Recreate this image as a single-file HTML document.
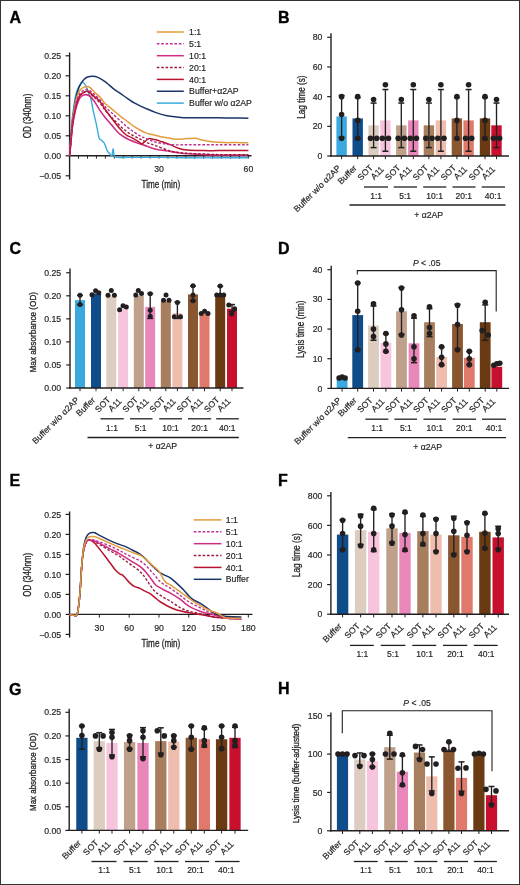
<!DOCTYPE html>
<html><head><meta charset="utf-8"><style>
html,body{margin:0;padding:0;background:#fff;}
body{width:520px;height:885px;overflow:hidden;}
svg{display:block;will-change:transform;}
text{font-family:"Liberation Sans", sans-serif;}
</style></head><body>
<svg width="520" height="885" viewBox="0 0 520 885" font-family='"Liberation Sans", sans-serif' fill="#231f20">
<rect x="0" y="0" width="520" height="885" fill="#fff"/>
<text x="9.6" y="23" font-size="16" font-weight="bold" fill="#000" stroke="#000" stroke-width="0.35">A</text>
<line x1="69.6" y1="52.5" x2="69.6" y2="179.5" stroke="#231f20" stroke-width="1.4"/>
<line x1="68.9" y1="155.8" x2="251.5" y2="155.8" stroke="#231f20" stroke-width="1.4"/>
<line x1="65.6" y1="55.8" x2="69.6" y2="55.8" stroke="#231f20" stroke-width="1.2"/>
<text x="61.2" y="58.9" font-size="8.7" text-anchor="end" stroke="#231f20" stroke-width="0.18">0.25</text>
<line x1="65.6" y1="75.8" x2="69.6" y2="75.8" stroke="#231f20" stroke-width="1.2"/>
<text x="61.2" y="78.9" font-size="8.7" text-anchor="end" stroke="#231f20" stroke-width="0.18">0.20</text>
<line x1="65.6" y1="95.8" x2="69.6" y2="95.8" stroke="#231f20" stroke-width="1.2"/>
<text x="61.2" y="98.9" font-size="8.7" text-anchor="end" stroke="#231f20" stroke-width="0.18">0.15</text>
<line x1="65.6" y1="115.8" x2="69.6" y2="115.8" stroke="#231f20" stroke-width="1.2"/>
<text x="61.2" y="118.9" font-size="8.7" text-anchor="end" stroke="#231f20" stroke-width="0.18">0.10</text>
<line x1="65.6" y1="135.8" x2="69.6" y2="135.8" stroke="#231f20" stroke-width="1.2"/>
<text x="61.2" y="138.9" font-size="8.7" text-anchor="end" stroke="#231f20" stroke-width="0.18">0.05</text>
<line x1="65.6" y1="155.8" x2="69.6" y2="155.8" stroke="#231f20" stroke-width="1.2"/>
<text x="61.2" y="158.9" font-size="8.7" text-anchor="end" stroke="#231f20" stroke-width="0.18">0.00</text>
<line x1="65.6" y1="175.8" x2="69.6" y2="175.8" stroke="#231f20" stroke-width="1.2"/>
<text x="61.2" y="178.9" font-size="8.7" text-anchor="end" stroke="#231f20" stroke-width="0.18">−0.05</text>
<line x1="78.54" y1="155.8" x2="78.54" y2="158.6" stroke="#231f20" stroke-width="1"/>
<line x1="87.48" y1="155.8" x2="87.48" y2="158.6" stroke="#231f20" stroke-width="1"/>
<line x1="96.42" y1="155.8" x2="96.42" y2="158.6" stroke="#231f20" stroke-width="1"/>
<line x1="105.36" y1="155.8" x2="105.36" y2="158.6" stroke="#231f20" stroke-width="1"/>
<line x1="114.3" y1="155.8" x2="114.3" y2="158.6" stroke="#231f20" stroke-width="1"/>
<line x1="123.24" y1="155.8" x2="123.24" y2="158.6" stroke="#231f20" stroke-width="1"/>
<line x1="132.18" y1="155.8" x2="132.18" y2="158.6" stroke="#231f20" stroke-width="1"/>
<line x1="141.12" y1="155.8" x2="141.12" y2="158.6" stroke="#231f20" stroke-width="1"/>
<line x1="150.06" y1="155.8" x2="150.06" y2="158.6" stroke="#231f20" stroke-width="1"/>
<line x1="159" y1="155.8" x2="159" y2="158.6" stroke="#231f20" stroke-width="1"/>
<line x1="167.94" y1="155.8" x2="167.94" y2="158.6" stroke="#231f20" stroke-width="1"/>
<line x1="176.88" y1="155.8" x2="176.88" y2="158.6" stroke="#231f20" stroke-width="1"/>
<line x1="185.82" y1="155.8" x2="185.82" y2="158.6" stroke="#231f20" stroke-width="1"/>
<line x1="194.76" y1="155.8" x2="194.76" y2="158.6" stroke="#231f20" stroke-width="1"/>
<line x1="203.7" y1="155.8" x2="203.7" y2="158.6" stroke="#231f20" stroke-width="1"/>
<line x1="212.64" y1="155.8" x2="212.64" y2="158.6" stroke="#231f20" stroke-width="1"/>
<line x1="221.58" y1="155.8" x2="221.58" y2="158.6" stroke="#231f20" stroke-width="1"/>
<line x1="230.52" y1="155.8" x2="230.52" y2="158.6" stroke="#231f20" stroke-width="1"/>
<line x1="239.46" y1="155.8" x2="239.46" y2="158.6" stroke="#231f20" stroke-width="1"/>
<line x1="248.4" y1="155.8" x2="248.4" y2="158.6" stroke="#231f20" stroke-width="1"/>
<text x="159" y="172" font-size="8.7" text-anchor="middle" stroke="#231f20" stroke-width="0.18">30</text>
<text x="248.4" y="172" font-size="8.7" text-anchor="middle" stroke="#231f20" stroke-width="0.18">60</text>
<text x="141.5" y="188" font-size="10.7" textLength="38.7" lengthAdjust="spacingAndGlyphs" stroke="#231f20" stroke-width="0.3">Time (min)</text>
<text x="31" y="116" font-size="10.2" text-anchor="middle" textLength="44.7" lengthAdjust="spacingAndGlyphs" transform="rotate(-90 31 116)" stroke="#231f20" stroke-width="0.3">OD (340nm)</text>
<path d="M69.6,155.8 C69.85,151.8 70.59,138.47 71.09,131.8 C71.59,125.13 71.83,121.8 72.58,115.8 C73.33,109.8 74.57,100.6 75.56,95.8 C76.55,91 77.4,89.27 78.54,87 C79.68,84.73 81.32,82.6 82.41,82.2 C83.51,81.8 84.25,83.33 85.1,84.6 C85.94,85.87 86.49,87.27 87.48,89.8 C88.47,92.33 90.06,96.13 91.06,99.8 C92.05,103.47 92.65,108.13 93.44,111.8 C94.23,115.47 94.88,117.47 95.82,121.8 C96.77,126.13 98.26,134.8 99.1,137.8 C99.95,140.8 100.1,139 100.89,139.8 C101.68,140.6 103.12,141.6 103.87,142.6 C104.62,143.6 104.81,144.47 105.36,145.8 C105.91,147.13 106.4,149.27 107.15,150.6 C107.89,151.93 109.04,152.93 109.83,153.8 C110.62,154.67 111.37,156.67 111.92,155.8 C112.46,154.93 112.71,148.6 113.11,148.6 C113.51,148.6 113.6,154.33 114.3,155.8 C115,157.27 114.8,157.13 117.28,157.4 C119.76,157.67 122.25,157.4 129.2,157.4 C136.15,157.4 149.07,157.33 159,157.4 C168.93,157.47 178.87,157.73 188.8,157.8 C198.73,157.87 208.67,157.8 218.6,157.8 C228.53,157.8 243.43,157.8 248.4,157.8" fill="none" stroke="#3aaade" stroke-width="1.4" stroke-linejoin="round"/>
<path d="M69.6,155.8 C69.85,152.47 70.59,141.8 71.09,135.8 C71.59,129.8 71.83,125.8 72.58,119.8 C73.33,113.8 74.57,105 75.56,99.8 C76.55,94.6 77.55,91.47 78.54,88.6 C79.53,85.73 80.53,84.2 81.52,82.6 C82.51,81 83.51,79.93 84.5,79 C85.49,78.07 86.09,77.47 87.48,77 C88.87,76.53 91.11,76.13 92.84,76.2 C94.58,76.27 95.82,76.47 97.91,77.4 C100,78.33 102.63,79.8 105.36,81.8 C108.09,83.8 111.82,87.47 114.3,89.4 C116.78,91.33 117.98,91.83 120.26,93.4 C122.54,94.97 125.52,97.13 128.01,98.8 C130.49,100.47 131.98,101.7 135.16,103.4 C138.34,105.1 143.6,107.47 147.08,109 C150.56,110.53 152.69,111.47 156.02,112.6 C159.35,113.73 163.57,115.07 167.05,115.8 C170.52,116.53 173.5,116.67 176.88,117 C180.26,117.33 182.84,117.67 187.31,117.8 C191.78,117.93 198.48,117.8 203.7,117.8 C208.91,117.8 213.63,117.77 218.6,117.8 C223.57,117.83 228.53,117.93 233.5,118 C238.47,118.07 245.92,118.17 248.4,118.2" fill="none" stroke="#1a3668" stroke-width="1.5" stroke-linejoin="round"/>
<path d="M69.6,155.8 C69.85,152.47 70.59,141.8 71.09,135.8 C71.59,129.8 71.83,125.47 72.58,119.8 C73.33,114.13 74.57,106.33 75.56,101.8 C76.55,97.27 77.55,94.8 78.54,92.6 C79.53,90.4 80.18,89.6 81.52,88.6 C82.86,87.6 85.1,86.73 86.59,86.6 C88.08,86.47 89.07,86.8 90.46,87.8 C91.85,88.8 93.34,91.07 94.93,92.6 C96.52,94.13 98.26,95.13 100,97 C101.73,98.87 103.47,101.87 105.36,103.8 C107.25,105.73 108.89,106.6 111.32,108.6 C113.75,110.6 117.18,113.6 119.96,115.8 C122.74,118 125.72,120.07 128.01,121.8 C130.29,123.53 131.68,124.83 133.67,126.2 C135.66,127.57 137.69,128.8 139.93,130 C142.16,131.2 144.4,132.5 147.08,133.4 C149.76,134.3 153.54,134.8 156.02,135.4 C158.5,136 159.65,136.53 161.98,137 C164.31,137.47 167.54,137.82 170.03,138.2 C172.51,138.58 174.05,139.21 176.88,139.28 C179.71,139.35 183.88,138.78 187.01,138.6 C190.14,138.42 193.37,138 195.65,138.2 C197.94,138.4 197.99,139.2 200.72,139.8 C203.45,140.4 208.07,141.33 212.04,141.8 C216.02,142.27 220.49,142.47 224.56,142.6 C228.63,142.73 232.51,142.57 236.48,142.6 C240.45,142.63 246.41,142.77 248.4,142.8" fill="none" stroke="#e29c3c" stroke-width="1.5" stroke-linejoin="round"/>
<path d="M69.6,155.8 C69.85,153.27 70.59,145.6 71.09,140.6 C71.59,135.6 71.83,130.93 72.58,125.8 C73.33,120.67 74.57,114 75.56,109.8 C76.55,105.6 77.55,102.87 78.54,100.6 C79.53,98.33 80.28,97.2 81.52,96.2 C82.76,95.2 84.5,94.53 85.99,94.6 C87.48,94.67 88.97,95.33 90.46,96.6 C91.95,97.87 93.34,99.9 94.93,102.2 C96.52,104.5 98.26,107.8 100,110.4 C101.73,113 103.47,115.43 105.36,117.8 C107.25,120.17 108.89,121.87 111.32,124.6 C113.75,127.33 116.98,131.67 119.96,134.2 C122.94,136.73 125.87,138.2 129.2,139.8 C132.53,141.4 136.95,142.73 139.93,143.8 C142.91,144.87 144.4,145.3 147.08,146.2 C149.76,147.1 152.2,148.33 156.02,149.2 C159.84,150.07 166.05,150.77 170.03,151.4 C174,152.03 176.73,152.6 179.86,153 C182.99,153.4 184.83,153.53 188.8,153.8 C192.77,154.07 198.73,154.4 203.7,154.6 C208.67,154.8 211.15,154.93 218.6,155 C226.05,155.07 243.43,155 248.4,155" fill="none" stroke="#cf2d82" stroke-width="1.6" stroke-linejoin="round"/>
<path d="M69.6,155.8 C69.85,153 70.59,144.33 71.09,139 C71.59,133.67 71.83,129 72.58,123.8 C73.33,118.6 74.57,112.13 75.56,107.8 C76.55,103.47 77.55,100.13 78.54,97.8 C79.53,95.47 80.03,94.8 81.52,93.8 C83.01,92.8 85.49,91.33 87.48,91.8 C89.47,92.27 91.35,94.73 93.44,96.6 C95.53,98.47 98.01,100.67 100,103 C101.98,105.33 103.47,108.27 105.36,110.6 C107.25,112.93 108.89,114.47 111.32,117 C113.75,119.53 116.98,123.07 119.96,125.8 C122.94,128.53 125.87,131.23 129.2,133.4 C132.53,135.57 136.95,137.27 139.93,138.8 C142.91,140.33 144.4,141.43 147.08,142.6 C149.76,143.77 152.2,144.4 156.02,145.8 C159.84,147.2 166.05,149.87 170.03,151 C174,152.13 176.73,152.2 179.86,152.6 C182.99,153 182.34,153.07 188.8,153.4 C195.26,153.73 208.67,154.4 218.6,154.6 C228.53,154.8 243.43,154.6 248.4,154.6" fill="none" stroke="#9c1a3a" stroke-width="1.4" stroke-linejoin="round" stroke-dasharray="2.6,1.8"/>
<path d="M69.6,155.8 C69.85,153.13 70.59,145.13 71.09,139.8 C71.59,134.47 71.83,129.13 72.58,123.8 C73.33,118.47 74.57,112.13 75.56,107.8 C76.55,103.47 77.55,100.13 78.54,97.8 C79.53,95.47 80.03,94.93 81.52,93.8 C83.01,92.67 85.49,90.67 87.48,91 C89.47,91.33 91.35,94.07 93.44,95.8 C95.53,97.53 98.01,99.07 100,101.4 C101.98,103.73 103.47,107.07 105.36,109.8 C107.25,112.53 108.89,114.63 111.32,117.8 C113.75,120.97 117.48,125.93 119.96,128.8 C122.45,131.67 124.18,133.5 126.22,135 C128.26,136.5 129.9,136.53 132.18,137.8 C134.46,139.07 138.29,141.6 139.93,142.6 C141.57,143.6 140.52,144.47 142.01,143.8 C143.5,143.13 147.03,139.33 148.87,138.6 C150.71,137.87 151.85,139.2 153.04,139.4 C154.23,139.6 154.53,139.4 156.02,139.8 C157.51,140.2 159.65,141 161.98,141.8 C164.31,142.6 167.29,143.53 170.03,144.6 C172.76,145.67 175.54,147.3 178.37,148.2 C181.2,149.1 182.79,149.6 187.01,150 C191.23,150.4 198.44,150.5 203.7,150.6 C208.96,150.7 211.15,150.6 218.6,150.6 C226.05,150.6 243.43,150.6 248.4,150.6" fill="none" stroke="#b8132f" stroke-width="1.5" stroke-linejoin="round"/>
<path d="M69.6,155.8 C69.85,152.8 70.59,143.47 71.09,137.8 C71.59,132.13 71.83,127.33 72.58,121.8 C73.33,116.27 74.57,108.93 75.56,104.6 C76.55,100.27 77.55,97.93 78.54,95.8 C79.53,93.67 80.03,92.87 81.52,91.8 C83.01,90.73 85.49,89.07 87.48,89.4 C89.47,89.73 91.35,92.07 93.44,93.8 C95.53,95.53 98.01,97.6 100,99.8 C101.98,102 103.47,104.87 105.36,107 C107.25,109.13 108.89,110.37 111.32,112.6 C113.75,114.83 116.98,117.73 119.96,120.4 C122.94,123.07 125.87,126.03 129.2,128.6 C132.53,131.17 136.95,134.07 139.93,135.8 C142.91,137.53 144.4,137.93 147.08,139 C149.76,140.07 152.2,141.27 156.02,142.2 C159.84,143.13 164.56,144.17 170.03,144.6 C175.49,145.03 180.7,144.77 188.8,144.8 C196.9,144.83 208.67,144.8 218.6,144.8 C228.53,144.8 243.43,144.8 248.4,144.8" fill="none" stroke="#bb2f8f" stroke-width="1.4" stroke-linejoin="round" stroke-dasharray="2.6,1.8"/>
<line x1="156.8" y1="32" x2="183.8" y2="32" stroke="#e29c3c" stroke-width="1.5"/>
<text x="189.1" y="35.1" font-size="8.7" stroke="#231f20" stroke-width="0.18">1:1</text>
<line x1="156.8" y1="43.85" x2="183.8" y2="43.85" stroke="#bb2f8f" stroke-width="1.5" stroke-dasharray="2.6,1.8"/>
<text x="189.1" y="46.95" font-size="8.7" stroke="#231f20" stroke-width="0.18">5:1</text>
<line x1="156.8" y1="55.7" x2="183.8" y2="55.7" stroke="#cf2d82" stroke-width="1.5"/>
<text x="189.1" y="58.8" font-size="8.7" stroke="#231f20" stroke-width="0.18">10:1</text>
<line x1="156.8" y1="67.55" x2="183.8" y2="67.55" stroke="#9c1a3a" stroke-width="1.5" stroke-dasharray="2.6,1.8"/>
<text x="189.1" y="70.65" font-size="8.7" stroke="#231f20" stroke-width="0.18">20:1</text>
<line x1="156.8" y1="79.4" x2="183.8" y2="79.4" stroke="#b8132f" stroke-width="1.5"/>
<text x="189.1" y="82.5" font-size="8.7" stroke="#231f20" stroke-width="0.18">40:1</text>
<line x1="156.8" y1="91.25" x2="183.8" y2="91.25" stroke="#1a3668" stroke-width="1.5"/>
<text x="189.1" y="94.35" font-size="8.7" stroke="#231f20" stroke-width="0.18">Buffer+α2AP</text>
<line x1="156.8" y1="103.1" x2="183.8" y2="103.1" stroke="#3aaade" stroke-width="1.5"/>
<text x="189.1" y="106.2" font-size="8.7" stroke="#231f20" stroke-width="0.18">Buffer w/o α2AP</text>
<text x="278" y="22.6" font-size="16" font-weight="bold" fill="#000" stroke="#000" stroke-width="0.35">B</text>
<rect x="336.4" y="116.43" width="10.4" height="39.57" fill="#39a9e0"/>
<rect x="352.5" y="118.41" width="10.4" height="37.59" fill="#0f4c8a"/>
<rect x="368.4" y="125.33" width="10.4" height="30.67" fill="#dccdc0"/>
<rect x="380.2" y="120.38" width="10.4" height="35.62" fill="#f7c4dd"/>
<rect x="396.1" y="125.33" width="10.4" height="30.67" fill="#bfa08a"/>
<rect x="408.1" y="120.38" width="10.4" height="35.62" fill="#e987ba"/>
<rect x="423.7" y="125.33" width="10.4" height="30.67" fill="#a87f5e"/>
<rect x="435.7" y="120.38" width="10.4" height="35.62" fill="#efbdad"/>
<rect x="451.7" y="118.41" width="10.4" height="37.59" fill="#8a5630"/>
<rect x="463.4" y="120.38" width="10.4" height="35.62" fill="#e0786b"/>
<rect x="479.8" y="118.41" width="10.4" height="37.59" fill="#6a3a12"/>
<rect x="491.3" y="125.33" width="10.4" height="30.67" fill="#c8102e"/>
<line x1="341.6" y1="95.58" x2="341.6" y2="137.27" stroke="#231f20" stroke-width="1.35"/>
<line x1="338.6" y1="95.58" x2="344.6" y2="95.58" stroke="#231f20" stroke-width="1.5"/>
<line x1="338.6" y1="137.27" x2="344.6" y2="137.27" stroke="#231f20" stroke-width="1.5"/>
<line x1="357.7" y1="97.56" x2="357.7" y2="139.25" stroke="#231f20" stroke-width="1.35"/>
<line x1="354.7" y1="97.56" x2="360.7" y2="97.56" stroke="#231f20" stroke-width="1.5"/>
<line x1="354.7" y1="139.25" x2="360.7" y2="139.25" stroke="#231f20" stroke-width="1.5"/>
<line x1="373.6" y1="103.05" x2="373.6" y2="147.61" stroke="#231f20" stroke-width="1.35"/>
<line x1="370.6" y1="103.05" x2="376.6" y2="103.05" stroke="#231f20" stroke-width="1.5"/>
<line x1="370.6" y1="147.61" x2="376.6" y2="147.61" stroke="#231f20" stroke-width="1.5"/>
<line x1="385.4" y1="89.54" x2="385.4" y2="151.23" stroke="#231f20" stroke-width="1.35"/>
<line x1="382.4" y1="89.54" x2="388.4" y2="89.54" stroke="#231f20" stroke-width="1.5"/>
<line x1="382.4" y1="151.23" x2="388.4" y2="151.23" stroke="#231f20" stroke-width="1.5"/>
<line x1="401.3" y1="103.05" x2="401.3" y2="147.61" stroke="#231f20" stroke-width="1.35"/>
<line x1="398.3" y1="103.05" x2="404.3" y2="103.05" stroke="#231f20" stroke-width="1.5"/>
<line x1="398.3" y1="147.61" x2="404.3" y2="147.61" stroke="#231f20" stroke-width="1.5"/>
<line x1="413.3" y1="89.54" x2="413.3" y2="151.23" stroke="#231f20" stroke-width="1.35"/>
<line x1="410.3" y1="89.54" x2="416.3" y2="89.54" stroke="#231f20" stroke-width="1.5"/>
<line x1="410.3" y1="151.23" x2="416.3" y2="151.23" stroke="#231f20" stroke-width="1.5"/>
<line x1="428.9" y1="103.05" x2="428.9" y2="147.61" stroke="#231f20" stroke-width="1.35"/>
<line x1="425.9" y1="103.05" x2="431.9" y2="103.05" stroke="#231f20" stroke-width="1.5"/>
<line x1="425.9" y1="147.61" x2="431.9" y2="147.61" stroke="#231f20" stroke-width="1.5"/>
<line x1="440.9" y1="89.54" x2="440.9" y2="151.23" stroke="#231f20" stroke-width="1.35"/>
<line x1="437.9" y1="89.54" x2="443.9" y2="89.54" stroke="#231f20" stroke-width="1.5"/>
<line x1="437.9" y1="151.23" x2="443.9" y2="151.23" stroke="#231f20" stroke-width="1.5"/>
<line x1="456.9" y1="97.56" x2="456.9" y2="139.25" stroke="#231f20" stroke-width="1.35"/>
<line x1="453.9" y1="97.56" x2="459.9" y2="97.56" stroke="#231f20" stroke-width="1.5"/>
<line x1="453.9" y1="139.25" x2="459.9" y2="139.25" stroke="#231f20" stroke-width="1.5"/>
<line x1="468.6" y1="89.54" x2="468.6" y2="151.23" stroke="#231f20" stroke-width="1.35"/>
<line x1="465.6" y1="89.54" x2="471.6" y2="89.54" stroke="#231f20" stroke-width="1.5"/>
<line x1="465.6" y1="151.23" x2="471.6" y2="151.23" stroke="#231f20" stroke-width="1.5"/>
<line x1="485" y1="97.56" x2="485" y2="139.25" stroke="#231f20" stroke-width="1.35"/>
<line x1="482" y1="97.56" x2="488" y2="97.56" stroke="#231f20" stroke-width="1.5"/>
<line x1="482" y1="139.25" x2="488" y2="139.25" stroke="#231f20" stroke-width="1.5"/>
<line x1="496.5" y1="103.05" x2="496.5" y2="147.61" stroke="#231f20" stroke-width="1.35"/>
<line x1="493.5" y1="103.05" x2="499.5" y2="103.05" stroke="#231f20" stroke-width="1.5"/>
<line x1="493.5" y1="147.61" x2="499.5" y2="147.61" stroke="#231f20" stroke-width="1.5"/>
<circle cx="341.6" cy="96.64" r="2.8" fill="#231f20"/>
<circle cx="341.6" cy="114.45" r="2.8" fill="#231f20"/>
<circle cx="341.6" cy="138.19" r="2.8" fill="#231f20"/>
<circle cx="357.7" cy="96.64" r="2.8" fill="#231f20"/>
<circle cx="357.7" cy="120.38" r="2.8" fill="#231f20"/>
<circle cx="357.7" cy="138.19" r="2.8" fill="#231f20"/>
<circle cx="373.6" cy="99.61" r="2.8" fill="#231f20"/>
<circle cx="370.5" cy="138.19" r="2.8" fill="#231f20"/>
<circle cx="376.7" cy="138.19" r="2.8" fill="#231f20"/>
<circle cx="385.4" cy="84.77" r="2.8" fill="#231f20"/>
<circle cx="382.3" cy="138.19" r="2.8" fill="#231f20"/>
<circle cx="388.5" cy="138.19" r="2.8" fill="#231f20"/>
<circle cx="401.3" cy="99.61" r="2.8" fill="#231f20"/>
<circle cx="398.2" cy="138.19" r="2.8" fill="#231f20"/>
<circle cx="404.4" cy="138.19" r="2.8" fill="#231f20"/>
<circle cx="413.3" cy="84.77" r="2.8" fill="#231f20"/>
<circle cx="410.2" cy="138.19" r="2.8" fill="#231f20"/>
<circle cx="416.4" cy="138.19" r="2.8" fill="#231f20"/>
<circle cx="428.9" cy="99.61" r="2.8" fill="#231f20"/>
<circle cx="425.8" cy="138.19" r="2.8" fill="#231f20"/>
<circle cx="432" cy="138.19" r="2.8" fill="#231f20"/>
<circle cx="440.9" cy="84.77" r="2.8" fill="#231f20"/>
<circle cx="437.8" cy="138.19" r="2.8" fill="#231f20"/>
<circle cx="444" cy="138.19" r="2.8" fill="#231f20"/>
<circle cx="456.9" cy="96.64" r="2.8" fill="#231f20"/>
<circle cx="456.9" cy="120.38" r="2.8" fill="#231f20"/>
<circle cx="456.9" cy="138.19" r="2.8" fill="#231f20"/>
<circle cx="468.6" cy="84.77" r="2.8" fill="#231f20"/>
<circle cx="465.5" cy="138.19" r="2.8" fill="#231f20"/>
<circle cx="471.7" cy="138.19" r="2.8" fill="#231f20"/>
<circle cx="485" cy="96.64" r="2.8" fill="#231f20"/>
<circle cx="485" cy="120.38" r="2.8" fill="#231f20"/>
<circle cx="485" cy="138.19" r="2.8" fill="#231f20"/>
<circle cx="496.5" cy="99.61" r="2.8" fill="#231f20"/>
<circle cx="493.4" cy="138.19" r="2.8" fill="#231f20"/>
<circle cx="499.6" cy="138.19" r="2.8" fill="#231f20"/>
<line x1="331" y1="33.3" x2="331" y2="156.6" stroke="#231f20" stroke-width="1.4"/>
<line x1="330.3" y1="156" x2="509" y2="156" stroke="#231f20" stroke-width="1.4"/>
<line x1="327.2" y1="156" x2="331" y2="156" stroke="#231f20" stroke-width="1.2"/>
<text x="322.3" y="159.1" font-size="8.7" text-anchor="end" stroke="#231f20" stroke-width="0.18">0</text>
<line x1="327.2" y1="126.32" x2="331" y2="126.32" stroke="#231f20" stroke-width="1.2"/>
<text x="322.3" y="129.42" font-size="8.7" text-anchor="end" stroke="#231f20" stroke-width="0.18">20</text>
<line x1="327.2" y1="96.64" x2="331" y2="96.64" stroke="#231f20" stroke-width="1.2"/>
<text x="322.3" y="99.74" font-size="8.7" text-anchor="end" stroke="#231f20" stroke-width="0.18">40</text>
<line x1="327.2" y1="66.96" x2="331" y2="66.96" stroke="#231f20" stroke-width="1.2"/>
<text x="322.3" y="70.06" font-size="8.7" text-anchor="end" stroke="#231f20" stroke-width="0.18">60</text>
<line x1="327.2" y1="37.28" x2="331" y2="37.28" stroke="#231f20" stroke-width="1.2"/>
<text x="322.3" y="40.38" font-size="8.7" text-anchor="end" stroke="#231f20" stroke-width="0.18">80</text>
<line x1="341.6" y1="156" x2="341.6" y2="159.2" stroke="#231f20" stroke-width="1"/>
<line x1="357.7" y1="156" x2="357.7" y2="159.2" stroke="#231f20" stroke-width="1"/>
<line x1="373.6" y1="156" x2="373.6" y2="159.2" stroke="#231f20" stroke-width="1"/>
<line x1="385.4" y1="156" x2="385.4" y2="159.2" stroke="#231f20" stroke-width="1"/>
<line x1="401.3" y1="156" x2="401.3" y2="159.2" stroke="#231f20" stroke-width="1"/>
<line x1="413.3" y1="156" x2="413.3" y2="159.2" stroke="#231f20" stroke-width="1"/>
<line x1="428.9" y1="156" x2="428.9" y2="159.2" stroke="#231f20" stroke-width="1"/>
<line x1="440.9" y1="156" x2="440.9" y2="159.2" stroke="#231f20" stroke-width="1"/>
<line x1="456.9" y1="156" x2="456.9" y2="159.2" stroke="#231f20" stroke-width="1"/>
<line x1="468.6" y1="156" x2="468.6" y2="159.2" stroke="#231f20" stroke-width="1"/>
<line x1="485" y1="156" x2="485" y2="159.2" stroke="#231f20" stroke-width="1"/>
<line x1="496.5" y1="156" x2="496.5" y2="159.2" stroke="#231f20" stroke-width="1"/>
<text x="341.3" y="168.6" font-size="8.6" text-anchor="end" transform="rotate(-45 341.3 168.6)" stroke="#231f20" stroke-width="0.18">Buffer w/o α2AP</text>
<text x="357.4" y="168.6" font-size="8.6" text-anchor="end" transform="rotate(-45 357.4 168.6)" stroke="#231f20" stroke-width="0.18">Buffer</text>
<text x="373.4" y="168.4" font-size="8.6" text-anchor="end" transform="rotate(-45 373.4 168.4)" stroke="#231f20" stroke-width="0.18">SOT</text>
<text x="384.5" y="169.8" font-size="8.6" text-anchor="end" transform="rotate(-45 384.5 169.8)" stroke="#231f20" stroke-width="0.18">A11</text>
<text x="401.1" y="168.4" font-size="8.6" text-anchor="end" transform="rotate(-45 401.1 168.4)" stroke="#231f20" stroke-width="0.18">SOT</text>
<text x="412.4" y="169.8" font-size="8.6" text-anchor="end" transform="rotate(-45 412.4 169.8)" stroke="#231f20" stroke-width="0.18">A11</text>
<text x="428.7" y="168.4" font-size="8.6" text-anchor="end" transform="rotate(-45 428.7 168.4)" stroke="#231f20" stroke-width="0.18">SOT</text>
<text x="440" y="169.8" font-size="8.6" text-anchor="end" transform="rotate(-45 440 169.8)" stroke="#231f20" stroke-width="0.18">A11</text>
<text x="456.7" y="168.4" font-size="8.6" text-anchor="end" transform="rotate(-45 456.7 168.4)" stroke="#231f20" stroke-width="0.18">SOT</text>
<text x="467.7" y="169.8" font-size="8.6" text-anchor="end" transform="rotate(-45 467.7 169.8)" stroke="#231f20" stroke-width="0.18">A11</text>
<text x="484.8" y="168.4" font-size="8.6" text-anchor="end" transform="rotate(-45 484.8 168.4)" stroke="#231f20" stroke-width="0.18">SOT</text>
<text x="495.6" y="169.8" font-size="8.6" text-anchor="end" transform="rotate(-45 495.6 169.8)" stroke="#231f20" stroke-width="0.18">A11</text>
<line x1="364" y1="187" x2="388" y2="187" stroke="#231f20" stroke-width="1.3"/>
<text x="376.2" y="199.4" font-size="8.5" text-anchor="middle" stroke="#231f20" stroke-width="0.18">1:1</text>
<line x1="393.7" y1="187" x2="417" y2="187" stroke="#231f20" stroke-width="1.3"/>
<text x="405.2" y="199.4" font-size="8.5" text-anchor="middle" stroke="#231f20" stroke-width="0.18">5:1</text>
<line x1="423.2" y1="187" x2="446.3" y2="187" stroke="#231f20" stroke-width="1.3"/>
<text x="434.6" y="199.4" font-size="8.5" text-anchor="middle" stroke="#231f20" stroke-width="0.18">10:1</text>
<line x1="452.5" y1="187" x2="475.5" y2="187" stroke="#231f20" stroke-width="1.3"/>
<text x="463.8" y="199.4" font-size="8.5" text-anchor="middle" stroke="#231f20" stroke-width="0.18">20:1</text>
<line x1="481.7" y1="187" x2="505" y2="187" stroke="#231f20" stroke-width="1.3"/>
<text x="493.1" y="199.4" font-size="8.5" text-anchor="middle" stroke="#231f20" stroke-width="0.18">40:1</text>
<line x1="349.5" y1="205" x2="505.5" y2="205" stroke="#231f20" stroke-width="1.3"/>
<text x="428.7" y="217.8" font-size="8.7" text-anchor="middle" stroke="#231f20" stroke-width="0.18">+ α2AP</text>
<text x="305.2" y="97.1" font-size="10.5" text-anchor="middle" textLength="43.4" lengthAdjust="spacingAndGlyphs" transform="rotate(-90 305.2 97.1)" stroke="#231f20" stroke-width="0.3">Lag time (s)</text>
<text x="9.5" y="254.2" font-size="16" font-weight="bold" fill="#000" stroke="#000" stroke-width="0.35">C</text>
<rect x="75" y="300.18" width="10" height="87.82" fill="#39a9e0"/>
<rect x="91" y="293.5" width="10" height="94.5" fill="#0f4c8a"/>
<rect x="106.3" y="296.26" width="10" height="91.74" fill="#dccdc0"/>
<rect x="118.1" y="308.71" width="10" height="79.29" fill="#f7c4dd"/>
<rect x="133.8" y="295.8" width="10" height="92.2" fill="#bfa08a"/>
<rect x="145.2" y="306.86" width="10" height="81.14" fill="#e987ba"/>
<rect x="160.8" y="301.33" width="10" height="86.67" fill="#a87f5e"/>
<rect x="172.4" y="313.32" width="10" height="74.68" fill="#efbdad"/>
<rect x="188" y="294.42" width="10" height="93.58" fill="#8a5630"/>
<rect x="199.5" y="313.78" width="10" height="74.22" fill="#e0786b"/>
<rect x="215.2" y="294.42" width="10" height="93.58" fill="#6a3a12"/>
<rect x="227" y="308.71" width="10" height="79.29" fill="#c8102e"/>
<line x1="80" y1="295.34" x2="80" y2="304.56" stroke="#231f20" stroke-width="1.35"/>
<line x1="77" y1="295.34" x2="83" y2="295.34" stroke="#231f20" stroke-width="1.5"/>
<line x1="77" y1="304.56" x2="83" y2="304.56" stroke="#231f20" stroke-width="1.5"/>
<line x1="150.2" y1="293.5" x2="150.2" y2="318.39" stroke="#231f20" stroke-width="1.35"/>
<line x1="147.2" y1="293.5" x2="153.2" y2="293.5" stroke="#231f20" stroke-width="1.5"/>
<line x1="147.2" y1="318.39" x2="153.2" y2="318.39" stroke="#231f20" stroke-width="1.5"/>
<line x1="177.4" y1="302.25" x2="177.4" y2="318.39" stroke="#231f20" stroke-width="1.35"/>
<line x1="174.4" y1="302.25" x2="180.4" y2="302.25" stroke="#231f20" stroke-width="1.5"/>
<line x1="174.4" y1="318.39" x2="180.4" y2="318.39" stroke="#231f20" stroke-width="1.5"/>
<line x1="193" y1="286.12" x2="193" y2="300.87" stroke="#231f20" stroke-width="1.35"/>
<line x1="190" y1="286.12" x2="196" y2="286.12" stroke="#231f20" stroke-width="1.5"/>
<line x1="190" y1="300.87" x2="196" y2="300.87" stroke="#231f20" stroke-width="1.5"/>
<line x1="220.2" y1="286.12" x2="220.2" y2="295.8" stroke="#231f20" stroke-width="1.35"/>
<line x1="217.2" y1="286.12" x2="223.2" y2="286.12" stroke="#231f20" stroke-width="1.5"/>
<line x1="217.2" y1="295.8" x2="223.2" y2="295.8" stroke="#231f20" stroke-width="1.5"/>
<line x1="232" y1="304.56" x2="232" y2="311.47" stroke="#231f20" stroke-width="1.35"/>
<line x1="229" y1="304.56" x2="235" y2="304.56" stroke="#231f20" stroke-width="1.5"/>
<line x1="229" y1="311.47" x2="235" y2="311.47" stroke="#231f20" stroke-width="1.5"/>
<circle cx="80" cy="295.34" r="2.5" fill="#231f20"/>
<circle cx="80" cy="304.56" r="2.5" fill="#231f20"/>
<circle cx="92" cy="294.79" r="2.5" fill="#231f20"/>
<circle cx="95.6" cy="290.82" r="2.5" fill="#231f20"/>
<circle cx="98.8" cy="292.8" r="2.5" fill="#231f20"/>
<circle cx="108" cy="295.2" r="2.5" fill="#231f20"/>
<circle cx="111.3" cy="290.5" r="2.5" fill="#231f20"/>
<circle cx="114.4" cy="295.2" r="2.5" fill="#231f20"/>
<circle cx="119.6" cy="309.81" r="2.5" fill="#231f20"/>
<circle cx="123" cy="305.8" r="2.5" fill="#231f20"/>
<circle cx="126.3" cy="306.91" r="2.5" fill="#231f20"/>
<circle cx="135.8" cy="295.02" r="2.5" fill="#231f20"/>
<circle cx="138.3" cy="290.59" r="2.5" fill="#231f20"/>
<circle cx="141.5" cy="293.59" r="2.5" fill="#231f20"/>
<circle cx="150.2" cy="293.82" r="2.5" fill="#231f20"/>
<circle cx="150.2" cy="310.18" r="2.5" fill="#231f20"/>
<circle cx="150.2" cy="316.31" r="2.5" fill="#231f20"/>
<circle cx="163.5" cy="300.18" r="2.5" fill="#231f20"/>
<circle cx="166" cy="295.02" r="2.5" fill="#231f20"/>
<circle cx="169" cy="300.18" r="2.5" fill="#231f20"/>
<circle cx="177.4" cy="302.48" r="2.5" fill="#231f20"/>
<circle cx="174.3" cy="316.68" r="2.5" fill="#231f20"/>
<circle cx="180.5" cy="316.68" r="2.5" fill="#231f20"/>
<circle cx="193" cy="285.8" r="2.5" fill="#231f20"/>
<circle cx="193" cy="295.02" r="2.5" fill="#231f20"/>
<circle cx="193" cy="300.87" r="2.5" fill="#231f20"/>
<circle cx="201.2" cy="313.5" r="2.5" fill="#231f20"/>
<circle cx="204.6" cy="311.2" r="2.5" fill="#231f20"/>
<circle cx="208" cy="313.5" r="2.5" fill="#231f20"/>
<circle cx="220.2" cy="286.12" r="2.5" fill="#231f20"/>
<circle cx="216.7" cy="295.02" r="2.5" fill="#231f20"/>
<circle cx="220.2" cy="295.02" r="2.5" fill="#231f20"/>
<circle cx="223.7" cy="295.02" r="2.5" fill="#231f20"/>
<circle cx="228.8" cy="305.02" r="2.5" fill="#231f20"/>
<circle cx="234.6" cy="308.71" r="2.5" fill="#231f20"/>
<circle cx="231.7" cy="314.01" r="2.5" fill="#231f20"/>
<line x1="70" y1="268.5" x2="70" y2="388.6" stroke="#231f20" stroke-width="1.4"/>
<line x1="69.3" y1="388" x2="243.4" y2="388" stroke="#231f20" stroke-width="1.4"/>
<line x1="66.2" y1="388" x2="70" y2="388" stroke="#231f20" stroke-width="1.2"/>
<text x="61.2" y="391.1" font-size="8.7" text-anchor="end" stroke="#231f20" stroke-width="0.18">0.00</text>
<line x1="66.2" y1="364.95" x2="70" y2="364.95" stroke="#231f20" stroke-width="1.2"/>
<text x="61.2" y="368.05" font-size="8.7" text-anchor="end" stroke="#231f20" stroke-width="0.18">0.05</text>
<line x1="66.2" y1="341.9" x2="70" y2="341.9" stroke="#231f20" stroke-width="1.2"/>
<text x="61.2" y="345" font-size="8.7" text-anchor="end" stroke="#231f20" stroke-width="0.18">0.10</text>
<line x1="66.2" y1="318.85" x2="70" y2="318.85" stroke="#231f20" stroke-width="1.2"/>
<text x="61.2" y="321.95" font-size="8.7" text-anchor="end" stroke="#231f20" stroke-width="0.18">0.15</text>
<line x1="66.2" y1="295.8" x2="70" y2="295.8" stroke="#231f20" stroke-width="1.2"/>
<text x="61.2" y="298.9" font-size="8.7" text-anchor="end" stroke="#231f20" stroke-width="0.18">0.20</text>
<line x1="66.2" y1="272.75" x2="70" y2="272.75" stroke="#231f20" stroke-width="1.2"/>
<text x="61.2" y="275.85" font-size="8.7" text-anchor="end" stroke="#231f20" stroke-width="0.18">0.25</text>
<line x1="80" y1="388" x2="80" y2="391.2" stroke="#231f20" stroke-width="1"/>
<line x1="96" y1="388" x2="96" y2="391.2" stroke="#231f20" stroke-width="1"/>
<line x1="111.3" y1="388" x2="111.3" y2="391.2" stroke="#231f20" stroke-width="1"/>
<line x1="123.1" y1="388" x2="123.1" y2="391.2" stroke="#231f20" stroke-width="1"/>
<line x1="138.8" y1="388" x2="138.8" y2="391.2" stroke="#231f20" stroke-width="1"/>
<line x1="150.2" y1="388" x2="150.2" y2="391.2" stroke="#231f20" stroke-width="1"/>
<line x1="165.8" y1="388" x2="165.8" y2="391.2" stroke="#231f20" stroke-width="1"/>
<line x1="177.4" y1="388" x2="177.4" y2="391.2" stroke="#231f20" stroke-width="1"/>
<line x1="193" y1="388" x2="193" y2="391.2" stroke="#231f20" stroke-width="1"/>
<line x1="204.5" y1="388" x2="204.5" y2="391.2" stroke="#231f20" stroke-width="1"/>
<line x1="220.2" y1="388" x2="220.2" y2="391.2" stroke="#231f20" stroke-width="1"/>
<line x1="232" y1="388" x2="232" y2="391.2" stroke="#231f20" stroke-width="1"/>
<text x="79.7" y="400.6" font-size="8.6" text-anchor="end" transform="rotate(-45 79.7 400.6)" stroke="#231f20" stroke-width="0.18">Buffer w/o α2AP</text>
<text x="95.7" y="400.6" font-size="8.6" text-anchor="end" transform="rotate(-45 95.7 400.6)" stroke="#231f20" stroke-width="0.18">Buffer</text>
<text x="111.1" y="400.4" font-size="8.6" text-anchor="end" transform="rotate(-45 111.1 400.4)" stroke="#231f20" stroke-width="0.18">SOT</text>
<text x="122.2" y="401.8" font-size="8.6" text-anchor="end" transform="rotate(-45 122.2 401.8)" stroke="#231f20" stroke-width="0.18">A11</text>
<text x="138.6" y="400.4" font-size="8.6" text-anchor="end" transform="rotate(-45 138.6 400.4)" stroke="#231f20" stroke-width="0.18">SOT</text>
<text x="149.3" y="401.8" font-size="8.6" text-anchor="end" transform="rotate(-45 149.3 401.8)" stroke="#231f20" stroke-width="0.18">A11</text>
<text x="165.6" y="400.4" font-size="8.6" text-anchor="end" transform="rotate(-45 165.6 400.4)" stroke="#231f20" stroke-width="0.18">SOT</text>
<text x="176.5" y="401.8" font-size="8.6" text-anchor="end" transform="rotate(-45 176.5 401.8)" stroke="#231f20" stroke-width="0.18">A11</text>
<text x="192.8" y="400.4" font-size="8.6" text-anchor="end" transform="rotate(-45 192.8 400.4)" stroke="#231f20" stroke-width="0.18">SOT</text>
<text x="203.6" y="401.8" font-size="8.6" text-anchor="end" transform="rotate(-45 203.6 401.8)" stroke="#231f20" stroke-width="0.18">A11</text>
<text x="220" y="400.4" font-size="8.6" text-anchor="end" transform="rotate(-45 220 400.4)" stroke="#231f20" stroke-width="0.18">SOT</text>
<text x="231.1" y="401.8" font-size="8.6" text-anchor="end" transform="rotate(-45 231.1 401.8)" stroke="#231f20" stroke-width="0.18">A11</text>
<line x1="100.5" y1="418.8" x2="123.8" y2="418.8" stroke="#231f20" stroke-width="1.3"/>
<text x="112" y="431.1" font-size="8.5" text-anchor="middle" stroke="#231f20" stroke-width="0.18">1:1</text>
<line x1="130" y1="418.8" x2="152.5" y2="418.8" stroke="#231f20" stroke-width="1.3"/>
<text x="140.6" y="431.1" font-size="8.5" text-anchor="middle" stroke="#231f20" stroke-width="0.18">5:1</text>
<line x1="159.2" y1="418.8" x2="182" y2="418.8" stroke="#231f20" stroke-width="1.3"/>
<text x="170.5" y="431.1" font-size="8.5" text-anchor="middle" stroke="#231f20" stroke-width="0.18">10:1</text>
<line x1="188" y1="418.8" x2="211.2" y2="418.8" stroke="#231f20" stroke-width="1.3"/>
<text x="199.6" y="431.1" font-size="8.5" text-anchor="middle" stroke="#231f20" stroke-width="0.18">20:1</text>
<line x1="216.2" y1="418.8" x2="238.8" y2="418.8" stroke="#231f20" stroke-width="1.3"/>
<text x="227.3" y="431.1" font-size="8.5" text-anchor="middle" stroke="#231f20" stroke-width="0.18">40:1</text>
<line x1="87.5" y1="437.5" x2="238.8" y2="437.5" stroke="#231f20" stroke-width="1.3"/>
<text x="162.7" y="448.5" font-size="8.7" text-anchor="middle" stroke="#231f20" stroke-width="0.18">+ α2AP</text>
<text x="35.7" y="332.2" font-size="9.5" text-anchor="middle" textLength="80.6" lengthAdjust="spacingAndGlyphs" transform="rotate(-90 35.7 332.2)" stroke="#231f20" stroke-width="0.3">Max absorbance (OD)</text>
<text x="278" y="254.2" font-size="16" font-weight="bold" fill="#000" stroke="#000" stroke-width="0.35">D</text>
<rect x="336.7" y="379.2" width="10.8" height="9.2" fill="#39a9e0"/>
<rect x="352.3" y="315.1" width="10.8" height="73.3" fill="#0f4c8a"/>
<rect x="368.1" y="325.49" width="10.8" height="62.91" fill="#dccdc0"/>
<rect x="380.5" y="343" width="10.8" height="45.4" fill="#f7c4dd"/>
<rect x="396.1" y="311.25" width="10.8" height="77.15" fill="#bfa08a"/>
<rect x="408.6" y="343.29" width="10.8" height="45.11" fill="#e987ba"/>
<rect x="424.1" y="322.22" width="10.8" height="66.18" fill="#a87f5e"/>
<rect x="436.2" y="356.94" width="10.8" height="31.46" fill="#efbdad"/>
<rect x="452.1" y="324.01" width="10.8" height="64.39" fill="#8a5630"/>
<rect x="463.9" y="357.83" width="10.8" height="30.57" fill="#e0786b"/>
<rect x="479.8" y="322.22" width="10.8" height="66.18" fill="#6a3a12"/>
<rect x="491.4" y="366.74" width="10.8" height="21.66" fill="#c8102e"/>
<line x1="357.7" y1="283.05" x2="357.7" y2="349.82" stroke="#231f20" stroke-width="1.35"/>
<line x1="354.7" y1="283.05" x2="360.7" y2="283.05" stroke="#231f20" stroke-width="1.5"/>
<line x1="354.7" y1="349.82" x2="360.7" y2="349.82" stroke="#231f20" stroke-width="1.5"/>
<line x1="373.5" y1="306" x2="373.5" y2="340.23" stroke="#231f20" stroke-width="1.35"/>
<line x1="370.5" y1="306" x2="376.5" y2="306" stroke="#231f20" stroke-width="1.5"/>
<line x1="370.5" y1="340.23" x2="376.5" y2="340.23" stroke="#231f20" stroke-width="1.5"/>
<line x1="385.9" y1="333.95" x2="385.9" y2="351.84" stroke="#231f20" stroke-width="1.35"/>
<line x1="382.9" y1="333.95" x2="388.9" y2="333.95" stroke="#231f20" stroke-width="1.5"/>
<line x1="382.9" y1="351.84" x2="388.9" y2="351.84" stroke="#231f20" stroke-width="1.5"/>
<line x1="401.5" y1="287.48" x2="401.5" y2="334.41" stroke="#231f20" stroke-width="1.35"/>
<line x1="398.5" y1="287.48" x2="404.5" y2="287.48" stroke="#231f20" stroke-width="1.5"/>
<line x1="398.5" y1="334.41" x2="404.5" y2="334.41" stroke="#231f20" stroke-width="1.5"/>
<line x1="414" y1="318.2" x2="414" y2="362.65" stroke="#231f20" stroke-width="1.35"/>
<line x1="411" y1="318.2" x2="417" y2="318.2" stroke="#231f20" stroke-width="1.5"/>
<line x1="411" y1="362.65" x2="417" y2="362.65" stroke="#231f20" stroke-width="1.5"/>
<line x1="429.5" y1="308.6" x2="429.5" y2="336.64" stroke="#231f20" stroke-width="1.35"/>
<line x1="426.5" y1="308.6" x2="432.5" y2="308.6" stroke="#231f20" stroke-width="1.5"/>
<line x1="426.5" y1="336.64" x2="432.5" y2="336.64" stroke="#231f20" stroke-width="1.5"/>
<line x1="441.6" y1="347.31" x2="441.6" y2="365.2" stroke="#231f20" stroke-width="1.35"/>
<line x1="438.6" y1="347.31" x2="444.6" y2="347.31" stroke="#231f20" stroke-width="1.5"/>
<line x1="438.6" y1="365.2" x2="444.6" y2="365.2" stroke="#231f20" stroke-width="1.5"/>
<line x1="457.5" y1="304.25" x2="457.5" y2="348.9" stroke="#231f20" stroke-width="1.35"/>
<line x1="454.5" y1="304.25" x2="460.5" y2="304.25" stroke="#231f20" stroke-width="1.5"/>
<line x1="454.5" y1="348.9" x2="460.5" y2="348.9" stroke="#231f20" stroke-width="1.5"/>
<line x1="469.3" y1="351.54" x2="469.3" y2="364.92" stroke="#231f20" stroke-width="1.35"/>
<line x1="466.3" y1="351.54" x2="472.3" y2="351.54" stroke="#231f20" stroke-width="1.5"/>
<line x1="466.3" y1="364.92" x2="472.3" y2="364.92" stroke="#231f20" stroke-width="1.5"/>
<line x1="485.2" y1="304.92" x2="485.2" y2="340.32" stroke="#231f20" stroke-width="1.35"/>
<line x1="482.2" y1="304.92" x2="488.2" y2="304.92" stroke="#231f20" stroke-width="1.5"/>
<line x1="482.2" y1="340.32" x2="488.2" y2="340.32" stroke="#231f20" stroke-width="1.5"/>
<circle cx="339.1" cy="378.01" r="2.8" fill="#231f20"/>
<circle cx="342.1" cy="377.12" r="2.8" fill="#231f20"/>
<circle cx="345.1" cy="378.01" r="2.8" fill="#231f20"/>
<circle cx="357.7" cy="283.05" r="2.8" fill="#231f20"/>
<circle cx="357.7" cy="311.25" r="2.8" fill="#231f20"/>
<circle cx="357.7" cy="349.82" r="2.8" fill="#231f20"/>
<circle cx="373.5" cy="303.83" r="2.8" fill="#231f20"/>
<circle cx="373.5" cy="329.05" r="2.8" fill="#231f20"/>
<circle cx="373.5" cy="336.47" r="2.8" fill="#231f20"/>
<circle cx="385.9" cy="333.5" r="2.8" fill="#231f20"/>
<circle cx="385.9" cy="343.89" r="2.8" fill="#231f20"/>
<circle cx="385.9" cy="351.31" r="2.8" fill="#231f20"/>
<circle cx="401.5" cy="288.1" r="2.8" fill="#231f20"/>
<circle cx="401.5" cy="309.76" r="2.8" fill="#231f20"/>
<circle cx="401.5" cy="334.98" r="2.8" fill="#231f20"/>
<circle cx="414" cy="315.7" r="2.8" fill="#231f20"/>
<circle cx="414" cy="346.85" r="2.8" fill="#231f20"/>
<circle cx="414" cy="358.72" r="2.8" fill="#231f20"/>
<circle cx="429.5" cy="306.79" r="2.8" fill="#231f20"/>
<circle cx="429.5" cy="327.57" r="2.8" fill="#231f20"/>
<circle cx="429.5" cy="333.5" r="2.8" fill="#231f20"/>
<circle cx="441.6" cy="346.85" r="2.8" fill="#231f20"/>
<circle cx="441.6" cy="357.24" r="2.8" fill="#231f20"/>
<circle cx="441.6" cy="364.66" r="2.8" fill="#231f20"/>
<circle cx="457.5" cy="305.31" r="2.8" fill="#231f20"/>
<circle cx="457.5" cy="324.6" r="2.8" fill="#231f20"/>
<circle cx="457.5" cy="349.82" r="2.8" fill="#231f20"/>
<circle cx="469.3" cy="351.31" r="2.8" fill="#231f20"/>
<circle cx="469.3" cy="358.72" r="2.8" fill="#231f20"/>
<circle cx="469.3" cy="364.66" r="2.8" fill="#231f20"/>
<circle cx="485.2" cy="302.34" r="2.8" fill="#231f20"/>
<circle cx="482.2" cy="330.53" r="2.8" fill="#231f20"/>
<circle cx="488.2" cy="334.98" r="2.8" fill="#231f20"/>
<circle cx="493.8" cy="365.25" r="2.8" fill="#231f20"/>
<circle cx="496.8" cy="363.77" r="2.8" fill="#231f20"/>
<circle cx="499.8" cy="363.18" r="2.8" fill="#231f20"/>
<line x1="331.2" y1="265.8" x2="331.2" y2="389" stroke="#231f20" stroke-width="1.4"/>
<line x1="330.5" y1="388.4" x2="509" y2="388.4" stroke="#231f20" stroke-width="1.4"/>
<line x1="327.4" y1="388.4" x2="331.2" y2="388.4" stroke="#231f20" stroke-width="1.2"/>
<text x="322.3" y="391.5" font-size="8.7" text-anchor="end" stroke="#231f20" stroke-width="0.18">0</text>
<line x1="327.4" y1="358.72" x2="331.2" y2="358.72" stroke="#231f20" stroke-width="1.2"/>
<text x="322.3" y="361.82" font-size="8.7" text-anchor="end" stroke="#231f20" stroke-width="0.18">10</text>
<line x1="327.4" y1="329.05" x2="331.2" y2="329.05" stroke="#231f20" stroke-width="1.2"/>
<text x="322.3" y="332.15" font-size="8.7" text-anchor="end" stroke="#231f20" stroke-width="0.18">20</text>
<line x1="327.4" y1="299.38" x2="331.2" y2="299.38" stroke="#231f20" stroke-width="1.2"/>
<text x="322.3" y="302.48" font-size="8.7" text-anchor="end" stroke="#231f20" stroke-width="0.18">30</text>
<line x1="327.4" y1="269.7" x2="331.2" y2="269.7" stroke="#231f20" stroke-width="1.2"/>
<text x="322.3" y="272.8" font-size="8.7" text-anchor="end" stroke="#231f20" stroke-width="0.18">40</text>
<line x1="342.1" y1="388.4" x2="342.1" y2="391.6" stroke="#231f20" stroke-width="1"/>
<line x1="357.7" y1="388.4" x2="357.7" y2="391.6" stroke="#231f20" stroke-width="1"/>
<line x1="373.5" y1="388.4" x2="373.5" y2="391.6" stroke="#231f20" stroke-width="1"/>
<line x1="385.9" y1="388.4" x2="385.9" y2="391.6" stroke="#231f20" stroke-width="1"/>
<line x1="401.5" y1="388.4" x2="401.5" y2="391.6" stroke="#231f20" stroke-width="1"/>
<line x1="414" y1="388.4" x2="414" y2="391.6" stroke="#231f20" stroke-width="1"/>
<line x1="429.5" y1="388.4" x2="429.5" y2="391.6" stroke="#231f20" stroke-width="1"/>
<line x1="441.6" y1="388.4" x2="441.6" y2="391.6" stroke="#231f20" stroke-width="1"/>
<line x1="457.5" y1="388.4" x2="457.5" y2="391.6" stroke="#231f20" stroke-width="1"/>
<line x1="469.3" y1="388.4" x2="469.3" y2="391.6" stroke="#231f20" stroke-width="1"/>
<line x1="485.2" y1="388.4" x2="485.2" y2="391.6" stroke="#231f20" stroke-width="1"/>
<line x1="496.8" y1="388.4" x2="496.8" y2="391.6" stroke="#231f20" stroke-width="1"/>
<text x="341.8" y="401" font-size="8.6" text-anchor="end" transform="rotate(-45 341.8 401)" stroke="#231f20" stroke-width="0.18">Buffer w/o α2AP</text>
<text x="357.4" y="401" font-size="8.6" text-anchor="end" transform="rotate(-45 357.4 401)" stroke="#231f20" stroke-width="0.18">Buffer</text>
<text x="373.3" y="400.8" font-size="8.6" text-anchor="end" transform="rotate(-45 373.3 400.8)" stroke="#231f20" stroke-width="0.18">SOT</text>
<text x="385" y="402.2" font-size="8.6" text-anchor="end" transform="rotate(-45 385 402.2)" stroke="#231f20" stroke-width="0.18">A11</text>
<text x="401.3" y="400.8" font-size="8.6" text-anchor="end" transform="rotate(-45 401.3 400.8)" stroke="#231f20" stroke-width="0.18">SOT</text>
<text x="413.1" y="402.2" font-size="8.6" text-anchor="end" transform="rotate(-45 413.1 402.2)" stroke="#231f20" stroke-width="0.18">A11</text>
<text x="429.3" y="400.8" font-size="8.6" text-anchor="end" transform="rotate(-45 429.3 400.8)" stroke="#231f20" stroke-width="0.18">SOT</text>
<text x="440.7" y="402.2" font-size="8.6" text-anchor="end" transform="rotate(-45 440.7 402.2)" stroke="#231f20" stroke-width="0.18">A11</text>
<text x="457.3" y="400.8" font-size="8.6" text-anchor="end" transform="rotate(-45 457.3 400.8)" stroke="#231f20" stroke-width="0.18">SOT</text>
<text x="468.4" y="402.2" font-size="8.6" text-anchor="end" transform="rotate(-45 468.4 402.2)" stroke="#231f20" stroke-width="0.18">A11</text>
<text x="485" y="400.8" font-size="8.6" text-anchor="end" transform="rotate(-45 485 400.8)" stroke="#231f20" stroke-width="0.18">SOT</text>
<text x="495.9" y="402.2" font-size="8.6" text-anchor="end" transform="rotate(-45 495.9 402.2)" stroke="#231f20" stroke-width="0.18">A11</text>
<line x1="365.4" y1="419.2" x2="388.4" y2="419.2" stroke="#231f20" stroke-width="1.3"/>
<text x="377.2" y="431" font-size="8.5" text-anchor="middle" stroke="#231f20" stroke-width="0.18">1:1</text>
<line x1="394.4" y1="419.2" x2="417" y2="419.2" stroke="#231f20" stroke-width="1.3"/>
<text x="405.8" y="431" font-size="8.5" text-anchor="middle" stroke="#231f20" stroke-width="0.18">5:1</text>
<line x1="423.5" y1="419.2" x2="446" y2="419.2" stroke="#231f20" stroke-width="1.3"/>
<text x="434.8" y="431" font-size="8.5" text-anchor="middle" stroke="#231f20" stroke-width="0.18">10:1</text>
<line x1="452.6" y1="419.2" x2="476" y2="419.2" stroke="#231f20" stroke-width="1.3"/>
<text x="464.3" y="431" font-size="8.5" text-anchor="middle" stroke="#231f20" stroke-width="0.18">20:1</text>
<line x1="482" y1="419.2" x2="506" y2="419.2" stroke="#231f20" stroke-width="1.3"/>
<text x="494" y="431" font-size="8.5" text-anchor="middle" stroke="#231f20" stroke-width="0.18">40:1</text>
<line x1="347.8" y1="437.7" x2="506" y2="437.7" stroke="#231f20" stroke-width="1.3"/>
<text x="427.7" y="450.3" font-size="8.7" text-anchor="middle" stroke="#231f20" stroke-width="0.18">+ α2AP</text>
<text x="304.4" y="329.3" font-size="10.5" text-anchor="middle" textLength="57.6" lengthAdjust="spacingAndGlyphs" transform="rotate(-90 304.4 329.3)" stroke="#231f20" stroke-width="0.3">Lysis time (min)</text>
<path d="M357.3,274.5 V270.6 H496.2 V311.4" fill="none" stroke="#231f20" stroke-width="1.1"/>
<text x="426.7" y="265.8" font-size="8.6" text-anchor="middle" stroke="#231f20" stroke-width="0.18"><tspan font-style="italic">P</tspan> &lt; .05</text>
<text x="9.6" y="486.4" font-size="16" font-weight="bold" fill="#000" stroke="#000" stroke-width="0.35">E</text>
<line x1="69.6" y1="511.5" x2="69.6" y2="637.5" stroke="#231f20" stroke-width="1.4"/>
<line x1="68.9" y1="614.4" x2="252.5" y2="614.4" stroke="#231f20" stroke-width="1.4"/>
<line x1="65.6" y1="514.4" x2="69.6" y2="514.4" stroke="#231f20" stroke-width="1.2"/>
<text x="61.2" y="517.5" font-size="8.7" text-anchor="end" stroke="#231f20" stroke-width="0.18">0.25</text>
<line x1="65.6" y1="534.4" x2="69.6" y2="534.4" stroke="#231f20" stroke-width="1.2"/>
<text x="61.2" y="537.5" font-size="8.7" text-anchor="end" stroke="#231f20" stroke-width="0.18">0.20</text>
<line x1="65.6" y1="554.4" x2="69.6" y2="554.4" stroke="#231f20" stroke-width="1.2"/>
<text x="61.2" y="557.5" font-size="8.7" text-anchor="end" stroke="#231f20" stroke-width="0.18">0.15</text>
<line x1="65.6" y1="574.4" x2="69.6" y2="574.4" stroke="#231f20" stroke-width="1.2"/>
<text x="61.2" y="577.5" font-size="8.7" text-anchor="end" stroke="#231f20" stroke-width="0.18">0.10</text>
<line x1="65.6" y1="594.4" x2="69.6" y2="594.4" stroke="#231f20" stroke-width="1.2"/>
<text x="61.2" y="597.5" font-size="8.7" text-anchor="end" stroke="#231f20" stroke-width="0.18">0.05</text>
<line x1="65.6" y1="614.4" x2="69.6" y2="614.4" stroke="#231f20" stroke-width="1.2"/>
<text x="61.2" y="617.5" font-size="8.7" text-anchor="end" stroke="#231f20" stroke-width="0.18">0.00</text>
<line x1="65.6" y1="634.4" x2="69.6" y2="634.4" stroke="#231f20" stroke-width="1.2"/>
<text x="61.2" y="637.5" font-size="8.7" text-anchor="end" stroke="#231f20" stroke-width="0.18">−0.05</text>
<line x1="99.39" y1="614.4" x2="99.39" y2="617.6" stroke="#231f20" stroke-width="1"/>
<text x="99.39" y="631" font-size="8.7" text-anchor="middle" stroke="#231f20" stroke-width="0.18">30</text>
<line x1="129.18" y1="614.4" x2="129.18" y2="617.6" stroke="#231f20" stroke-width="1"/>
<text x="129.18" y="631" font-size="8.7" text-anchor="middle" stroke="#231f20" stroke-width="0.18">60</text>
<line x1="158.97" y1="614.4" x2="158.97" y2="617.6" stroke="#231f20" stroke-width="1"/>
<text x="158.97" y="631" font-size="8.7" text-anchor="middle" stroke="#231f20" stroke-width="0.18">90</text>
<line x1="188.76" y1="614.4" x2="188.76" y2="617.6" stroke="#231f20" stroke-width="1"/>
<text x="188.76" y="631" font-size="8.7" text-anchor="middle" stroke="#231f20" stroke-width="0.18">120</text>
<line x1="218.55" y1="614.4" x2="218.55" y2="617.6" stroke="#231f20" stroke-width="1"/>
<text x="218.55" y="631" font-size="8.7" text-anchor="middle" stroke="#231f20" stroke-width="0.18">150</text>
<line x1="248.34" y1="614.4" x2="248.34" y2="617.6" stroke="#231f20" stroke-width="1"/>
<text x="248.34" y="631" font-size="8.7" text-anchor="middle" stroke="#231f20" stroke-width="0.18">180</text>
<text x="141.6" y="646.5" font-size="10.7" textLength="38.7" lengthAdjust="spacingAndGlyphs" stroke="#231f20" stroke-width="0.3">Time (min)</text>
<text x="30.6" y="574.8" font-size="10.2" text-anchor="middle" textLength="44" lengthAdjust="spacingAndGlyphs" transform="rotate(-90 30.6 574.8)" stroke="#231f20" stroke-width="0.3">OD (340nm)</text>
<path d="M69.6,614.8 C70.1,614.87 71.52,615.07 72.58,615.2 C73.64,615.33 75.21,615.73 75.96,615.6 C76.7,615.47 76.67,615.53 77.05,614.4 C77.43,613.27 77.78,612.07 78.24,608.8 C78.7,605.53 79.38,599.87 79.83,594.8 C80.27,589.73 80.56,583.8 80.92,578.4 C81.28,573 81.57,567.07 82.01,562.4 C82.46,557.73 82.99,553.6 83.6,550.4 C84.21,547.2 85.04,544.8 85.69,543.2 C86.33,541.6 86.85,541.33 87.47,540.8 C88.1,540.27 88.8,540 89.46,540 C90.12,540 90.52,540.2 91.45,540.8 C92.37,541.4 93.6,542.13 95.02,543.6 C96.44,545.07 98.43,547.67 99.99,549.6 C101.54,551.53 102.68,553 104.35,555.2 C106.03,557.4 108.18,560.33 110.02,562.8 C111.85,565.27 113.69,568.1 115.38,570 C117.07,571.9 119,573.4 120.14,574.2 C121.29,575 121.42,574.23 122.23,574.8 C123.04,575.37 123.85,576.33 125.01,577.6 C126.17,578.87 127.66,580.93 129.18,582.4 C130.7,583.87 132.34,585.4 134.14,586.4 C135.95,587.4 138.18,587.6 140,588.4 C141.82,589.2 143.4,590.33 145.07,591.2 C146.74,592.07 148.38,592.53 150.03,593.6 C151.69,594.67 153.51,596.4 155,597.6 C156.49,598.8 157.48,599.73 158.97,600.8 C160.46,601.87 162.1,602.93 163.94,604 C165.77,605.07 168.17,606.33 169.99,607.2 C171.81,608.07 173.19,608.6 174.86,609.2 C176.53,609.8 177.64,610.2 180.02,610.8 C182.4,611.4 185.83,612.2 189.16,612.8 C192.48,613.4 196.74,613.87 199.98,614.4 C203.22,614.93 205.53,615.47 208.62,616 C211.71,616.53 213.09,617.2 218.55,617.6 C224.01,618 237.58,618.27 241.39,618.4" fill="none" stroke="#b8132f" stroke-width="1.5" stroke-linejoin="round"/>
<path d="M69.6,614.8 C70.1,614.87 71.52,615.07 72.58,615.2 C73.64,615.33 75.21,615.73 75.96,615.6 C76.7,615.47 76.67,615.53 77.05,614.4 C77.43,613.27 77.78,612.07 78.24,608.8 C78.7,605.53 79.38,599.87 79.83,594.8 C80.27,589.73 80.56,583.8 80.92,578.4 C81.28,573 81.57,567.07 82.01,562.4 C82.46,557.73 82.99,553.6 83.6,550.4 C84.21,547.2 85.04,544.8 85.69,543.2 C86.33,541.6 86.85,541.33 87.47,540.8 C88.1,540.27 88.63,540 89.46,540 C90.29,540 91.51,540.47 92.44,540.8 C93.37,541.13 93.76,541.33 95.02,542 C96.28,542.67 97.49,543.33 99.99,544.8 C102.48,546.27 106.8,548.93 110.02,550.8 C113.23,552.67 116.75,554.4 119.25,556 C121.75,557.6 122.86,558.8 125.01,560.4 C127.16,562 129.66,563.73 132.16,565.6 C134.66,567.47 137.85,569.6 140,571.6 C142.16,573.6 143.4,575.37 145.07,577.6 C146.74,579.83 148.38,582.67 150.03,585 C151.69,587.33 153.51,590.03 155,591.6 C156.49,593.17 157.48,593.4 158.97,594.4 C160.46,595.4 162.1,596.53 163.94,597.6 C165.77,598.67 167.31,599.13 169.99,600.8 C172.67,602.47 176.83,605.87 180.02,607.6 C183.22,609.33 185.83,610.2 189.16,611.2 C192.48,612.2 195.91,612.67 199.98,613.6 C204.05,614.53 208.84,616 213.58,616.8 C218.33,617.6 223.85,618.07 228.48,618.4 C233.11,618.73 239.24,618.73 241.39,618.8" fill="none" stroke="#9c1a3a" stroke-width="1.4" stroke-linejoin="round" stroke-dasharray="2.6,1.8"/>
<path d="M69.6,614.8 C70.1,614.87 71.52,615.07 72.58,615.2 C73.64,615.33 75.21,615.73 75.96,615.6 C76.7,615.47 76.67,615.53 77.05,614.4 C77.43,613.27 77.78,612.07 78.24,608.8 C78.7,605.53 79.38,599.87 79.83,594.8 C80.27,589.73 80.56,583.8 80.92,578.4 C81.28,573 81.57,567.07 82.01,562.4 C82.46,557.73 82.99,553.6 83.6,550.4 C84.21,547.2 85.04,544.8 85.69,543.2 C86.33,541.6 86.85,541.33 87.47,540.8 C88.1,540.27 88.63,540.07 89.46,540 C90.29,539.93 91.51,540.2 92.44,540.4 C93.37,540.6 93.76,540.67 95.02,541.2 C96.28,541.73 97.49,542.33 99.99,543.6 C102.48,544.87 106.8,547.13 110.02,548.8 C113.23,550.47 116.75,552.2 119.25,553.6 C121.75,555 122.86,555.87 125.01,557.2 C127.16,558.53 129.66,560.07 132.16,561.6 C134.66,563.13 137.85,564.8 140,566.4 C142.16,568 143.4,569.37 145.07,571.2 C146.74,573.03 148.38,575.23 150.03,577.4 C151.69,579.57 153.51,582.57 155,584.2 C156.49,585.83 157.48,586.23 158.97,587.2 C160.46,588.17 162.1,589.07 163.94,590 C165.77,590.93 167.31,591.27 169.99,592.8 C172.67,594.33 176.83,596.93 180.02,599.2 C183.22,601.47 185.83,604.4 189.16,606.4 C192.48,608.4 196.74,610 199.98,611.2 C203.22,612.4 205.53,612.8 208.62,613.6 C211.71,614.4 215.24,615.2 218.55,616 C221.86,616.8 224.67,617.87 228.48,618.4 C232.29,618.93 239.24,619.07 241.39,619.2" fill="none" stroke="#cf2d82" stroke-width="1.5" stroke-linejoin="round"/>
<path d="M69.6,614.8 C70.1,614.87 71.52,615.07 72.58,615.2 C73.64,615.33 75.21,615.73 75.96,615.6 C76.7,615.47 76.67,615.53 77.05,614.4 C77.43,613.27 77.78,612.07 78.24,608.8 C78.7,605.53 79.38,599.87 79.83,594.8 C80.27,589.73 80.56,583.8 80.92,578.4 C81.28,573 81.57,567.07 82.01,562.4 C82.46,557.73 82.99,553.6 83.6,550.4 C84.21,547.2 85.04,544.8 85.69,543.2 C86.33,541.6 86.85,541.4 87.47,540.8 C88.1,540.2 88.63,539.8 89.46,539.6 C90.29,539.4 91.51,539.5 92.44,539.6 C93.37,539.7 93.76,539.8 95.02,540.2 C96.28,540.6 97.49,541.03 99.99,542 C102.48,542.97 106.8,544.6 110.02,546 C113.23,547.4 116.75,549.13 119.25,550.4 C121.75,551.67 122.86,552.47 125.01,553.6 C127.16,554.73 129.66,556 132.16,557.2 C134.66,558.4 137.85,559.53 140,560.8 C142.16,562.07 143.4,563.27 145.07,564.8 C146.74,566.33 148.38,568.2 150.03,570 C151.69,571.8 153.51,573.83 155,575.6 C156.49,577.37 157.48,579.13 158.97,580.6 C160.46,582.07 162.1,583.17 163.94,584.4 C165.77,585.63 167.31,586.2 169.99,588 C172.67,589.8 176.83,592.87 180.02,595.2 C183.22,597.53 185.83,599.93 189.16,602 C192.48,604.07 196.74,605.93 199.98,607.6 C203.22,609.27 205.86,610.87 208.62,612 C211.38,613.13 214.08,613.67 216.56,614.4 C219.05,615.13 220.7,615.73 223.51,616.4 C226.33,617.07 230.47,617.93 233.44,618.4 C236.42,618.87 240.06,619.07 241.39,619.2" fill="none" stroke="#bb2f8f" stroke-width="1.4" stroke-linejoin="round" stroke-dasharray="2.6,1.8"/>
<path d="M69.6,614.8 C70.1,614.87 71.52,615.07 72.58,615.2 C73.64,615.33 75.21,615.73 75.96,615.6 C76.7,615.47 76.67,615.53 77.05,614.4 C77.43,613.27 77.78,612.07 78.24,608.8 C78.7,605.53 79.38,599.87 79.83,594.8 C80.27,589.73 80.56,583.8 80.92,578.4 C81.28,573 81.57,567.6 82.01,562.4 C82.46,557.2 82.99,551.2 83.6,547.2 C84.21,543.2 84.96,540.53 85.69,538.4 C86.41,536.27 87.18,535.33 87.97,534.4 C88.76,533.47 89.66,533.13 90.45,532.8 C91.25,532.47 91.98,532.4 92.74,532.4 C93.5,532.4 93.81,532.27 95.02,532.8 C96.23,533.33 97.49,534.3 99.99,535.6 C102.48,536.9 106.8,539.13 110.02,540.6 C113.23,542.07 116.75,543.43 119.25,544.4 C121.75,545.37 122.86,545.47 125.01,546.4 C127.16,547.33 129.66,548.7 132.16,550 C134.66,551.3 137.85,552.8 140,554.2 C142.16,555.6 143.4,556.83 145.07,558.4 C146.74,559.97 148.38,561.93 150.03,563.6 C151.69,565.27 153.51,567 155,568.4 C156.49,569.8 157.48,570.93 158.97,572 C160.46,573.07 162.1,573.87 163.94,574.8 C165.77,575.73 168.17,576.47 169.99,577.6 C171.81,578.73 173.19,580.13 174.86,581.6 C176.53,583.07 178.37,584.8 180.02,586.4 C181.68,588 183.27,589.57 184.79,591.2 C186.31,592.83 187.67,594.73 189.16,596.2 C190.65,597.67 191.92,598.83 193.72,600 C195.53,601.17 197.68,601.8 199.98,603.2 C202.28,604.6 205.43,606.93 207.53,608.4 C209.63,609.87 211.02,611 212.59,612 C214.16,613 215.14,613.73 216.96,614.4 C218.78,615.07 220.77,615.6 223.51,616 C226.26,616.4 230.47,616.63 233.44,616.8 C236.42,616.97 240.06,616.97 241.39,617" fill="none" stroke="#1a3668" stroke-width="1.5" stroke-linejoin="round"/>
<path d="M69.6,614.8 C70.1,614.87 71.52,615.07 72.58,615.2 C73.64,615.33 75.21,615.73 75.96,615.6 C76.7,615.47 76.67,615.53 77.05,614.4 C77.43,613.27 77.78,612.07 78.24,608.8 C78.7,605.53 79.38,599.87 79.83,594.8 C80.27,589.73 80.56,583.8 80.92,578.4 C81.28,573 81.57,567.4 82.01,562.4 C82.46,557.4 82.99,551.93 83.6,548.4 C84.21,544.87 85.04,542.87 85.69,541.2 C86.33,539.53 86.85,539.13 87.47,538.4 C88.1,537.67 88.63,537.1 89.46,536.8 C90.29,536.5 91.51,536.6 92.44,536.6 C93.37,536.6 93.76,536.43 95.02,536.8 C96.28,537.17 97.49,537.73 99.99,538.8 C102.48,539.87 106.8,541.8 110.02,543.2 C113.23,544.6 116.75,546.17 119.25,547.2 C121.75,548.23 122.86,548.53 125.01,549.4 C127.16,550.27 129.66,551.43 132.16,552.4 C134.66,553.37 137.85,554.13 140,555.2 C142.16,556.27 143.4,557.47 145.07,558.8 C146.74,560.13 148.38,561.73 150.03,563.2 C151.69,564.67 153.51,566.27 155,567.6 C156.49,568.93 157.81,569.73 158.97,571.2 C160.13,572.67 160.96,574.73 161.95,576.4 C162.94,578.07 164.1,580.07 164.93,581.2 C165.76,582.33 166.07,582.63 166.91,583.2 C167.76,583.77 168.67,583.8 169.99,584.6 C171.32,585.4 173.19,586.83 174.86,588 C176.53,589.17 178.37,590.4 180.02,591.6 C181.68,592.8 183.27,594.07 184.79,595.2 C186.31,596.33 187.67,597.33 189.16,598.4 C190.65,599.47 191.92,600.43 193.72,601.6 C195.53,602.77 197.5,604 199.98,605.4 C202.46,606.8 205.79,608.73 208.62,610 C211.45,611.27 214.23,611.73 216.96,613 C219.69,614.27 222.26,616.7 225,617.6 C227.75,618.5 230.71,618.27 233.44,618.4 C236.18,618.53 240.06,618.4 241.39,618.4" fill="none" stroke="#e29c3c" stroke-width="1.5" stroke-linejoin="round"/>
<line x1="193.8" y1="519.9" x2="221.5" y2="519.9" stroke="#e29c3c" stroke-width="1.5"/>
<text x="225.8" y="523" font-size="8.7" stroke="#231f20" stroke-width="0.18">1:1</text>
<line x1="193.8" y1="531.78" x2="221.5" y2="531.78" stroke="#bb2f8f" stroke-width="1.5" stroke-dasharray="2.6,1.8"/>
<text x="225.8" y="534.88" font-size="8.7" stroke="#231f20" stroke-width="0.18">5:1</text>
<line x1="193.8" y1="543.66" x2="221.5" y2="543.66" stroke="#cf2d82" stroke-width="1.5"/>
<text x="225.8" y="546.76" font-size="8.7" stroke="#231f20" stroke-width="0.18">10:1</text>
<line x1="193.8" y1="555.54" x2="221.5" y2="555.54" stroke="#9c1a3a" stroke-width="1.5" stroke-dasharray="2.6,1.8"/>
<text x="225.8" y="558.64" font-size="8.7" stroke="#231f20" stroke-width="0.18">20:1</text>
<line x1="193.8" y1="567.42" x2="221.5" y2="567.42" stroke="#b8132f" stroke-width="1.5"/>
<text x="225.8" y="570.52" font-size="8.7" stroke="#231f20" stroke-width="0.18">40:1</text>
<line x1="193.8" y1="579.3" x2="221.5" y2="579.3" stroke="#1a3668" stroke-width="1.5"/>
<text x="225.8" y="582.4" font-size="8.7" stroke="#231f20" stroke-width="0.18">Buffer</text>
<text x="278" y="486.3" font-size="16" font-weight="bold" fill="#000" stroke="#000" stroke-width="0.35">F</text>
<rect x="336.9" y="534.58" width="11.4" height="79.62" fill="#0f4c8a"/>
<rect x="354.9" y="530.14" width="11.4" height="84.06" fill="#dccdc0"/>
<rect x="368" y="531.76" width="11.4" height="82.44" fill="#f7c4dd"/>
<rect x="386.3" y="528.36" width="11.4" height="85.84" fill="#bfa08a"/>
<rect x="399.3" y="532.95" width="11.4" height="81.25" fill="#e987ba"/>
<rect x="417.2" y="531.17" width="11.4" height="83.03" fill="#a87f5e"/>
<rect x="430.3" y="534.58" width="11.4" height="79.62" fill="#efbdad"/>
<rect x="448.1" y="535.32" width="11.4" height="78.88" fill="#8a5630"/>
<rect x="461.3" y="536.94" width="11.4" height="77.26" fill="#e0786b"/>
<rect x="479.2" y="531.76" width="11.4" height="82.44" fill="#6a3a12"/>
<rect x="492.5" y="537.39" width="11.4" height="76.81" fill="#c8102e"/>
<line x1="342.6" y1="519.82" x2="342.6" y2="549.33" stroke="#231f20" stroke-width="1.35"/>
<line x1="339.6" y1="519.82" x2="345.6" y2="519.82" stroke="#231f20" stroke-width="1.5"/>
<line x1="339.6" y1="549.33" x2="345.6" y2="549.33" stroke="#231f20" stroke-width="1.5"/>
<line x1="360.6" y1="514.22" x2="360.6" y2="544.48" stroke="#231f20" stroke-width="1.35"/>
<line x1="357.6" y1="514.22" x2="363.6" y2="514.22" stroke="#231f20" stroke-width="1.5"/>
<line x1="357.6" y1="544.48" x2="363.6" y2="544.48" stroke="#231f20" stroke-width="1.5"/>
<line x1="373.7" y1="509.57" x2="373.7" y2="551.49" stroke="#231f20" stroke-width="1.35"/>
<line x1="370.7" y1="509.57" x2="376.7" y2="509.57" stroke="#231f20" stroke-width="1.5"/>
<line x1="370.7" y1="551.49" x2="376.7" y2="551.49" stroke="#231f20" stroke-width="1.5"/>
<line x1="392" y1="513.95" x2="392" y2="542.28" stroke="#231f20" stroke-width="1.35"/>
<line x1="389" y1="513.95" x2="395" y2="513.95" stroke="#231f20" stroke-width="1.5"/>
<line x1="389" y1="542.28" x2="395" y2="542.28" stroke="#231f20" stroke-width="1.5"/>
<line x1="405" y1="513.17" x2="405" y2="551.14" stroke="#231f20" stroke-width="1.35"/>
<line x1="402" y1="513.17" x2="408" y2="513.17" stroke="#231f20" stroke-width="1.5"/>
<line x1="402" y1="551.14" x2="408" y2="551.14" stroke="#231f20" stroke-width="1.5"/>
<line x1="422.9" y1="516.19" x2="422.9" y2="545.56" stroke="#231f20" stroke-width="1.35"/>
<line x1="419.9" y1="516.19" x2="425.9" y2="516.19" stroke="#231f20" stroke-width="1.5"/>
<line x1="419.9" y1="545.56" x2="425.9" y2="545.56" stroke="#231f20" stroke-width="1.5"/>
<line x1="436" y1="518.62" x2="436" y2="551.12" stroke="#231f20" stroke-width="1.35"/>
<line x1="433" y1="518.62" x2="439" y2="518.62" stroke="#231f20" stroke-width="1.5"/>
<line x1="433" y1="551.12" x2="439" y2="551.12" stroke="#231f20" stroke-width="1.5"/>
<line x1="453.8" y1="516.26" x2="453.8" y2="553.48" stroke="#231f20" stroke-width="1.35"/>
<line x1="450.8" y1="516.26" x2="456.8" y2="516.26" stroke="#231f20" stroke-width="1.5"/>
<line x1="450.8" y1="553.48" x2="456.8" y2="553.48" stroke="#231f20" stroke-width="1.5"/>
<line x1="467" y1="522.05" x2="467" y2="551.15" stroke="#231f20" stroke-width="1.35"/>
<line x1="464" y1="522.05" x2="470" y2="522.05" stroke="#231f20" stroke-width="1.5"/>
<line x1="464" y1="551.15" x2="470" y2="551.15" stroke="#231f20" stroke-width="1.5"/>
<line x1="484.9" y1="513.98" x2="484.9" y2="549.15" stroke="#231f20" stroke-width="1.35"/>
<line x1="481.9" y1="513.98" x2="487.9" y2="513.98" stroke="#231f20" stroke-width="1.5"/>
<line x1="481.9" y1="549.15" x2="487.9" y2="549.15" stroke="#231f20" stroke-width="1.5"/>
<line x1="498.2" y1="526.26" x2="498.2" y2="548.42" stroke="#231f20" stroke-width="1.35"/>
<line x1="495.2" y1="526.26" x2="501.2" y2="526.26" stroke="#231f20" stroke-width="1.5"/>
<line x1="495.2" y1="548.42" x2="501.2" y2="548.42" stroke="#231f20" stroke-width="1.5"/>
<circle cx="342.6" cy="520.37" r="2.8" fill="#231f20"/>
<circle cx="342.6" cy="533.54" r="2.8" fill="#231f20"/>
<circle cx="342.6" cy="549.82" r="2.8" fill="#231f20"/>
<circle cx="360.6" cy="516.08" r="2.8" fill="#231f20"/>
<circle cx="360.6" cy="526.14" r="2.8" fill="#231f20"/>
<circle cx="360.6" cy="545.82" r="2.8" fill="#231f20"/>
<circle cx="373.7" cy="508.23" r="2.8" fill="#231f20"/>
<circle cx="373.7" cy="533.54" r="2.8" fill="#231f20"/>
<circle cx="373.7" cy="549.82" r="2.8" fill="#231f20"/>
<circle cx="392" cy="515.04" r="2.8" fill="#231f20"/>
<circle cx="392" cy="526.14" r="2.8" fill="#231f20"/>
<circle cx="392" cy="543.16" r="2.8" fill="#231f20"/>
<circle cx="405" cy="512.08" r="2.8" fill="#231f20"/>
<circle cx="405" cy="534.58" r="2.8" fill="#231f20"/>
<circle cx="405" cy="549.82" r="2.8" fill="#231f20"/>
<circle cx="422.9" cy="515.04" r="2.8" fill="#231f20"/>
<circle cx="422.9" cy="533.54" r="2.8" fill="#231f20"/>
<circle cx="422.9" cy="544.05" r="2.8" fill="#231f20"/>
<circle cx="436" cy="519.33" r="2.8" fill="#231f20"/>
<circle cx="436" cy="533.54" r="2.8" fill="#231f20"/>
<circle cx="436" cy="551.74" r="2.8" fill="#231f20"/>
<circle cx="453.8" cy="518.3" r="2.8" fill="#231f20"/>
<circle cx="453.8" cy="531.32" r="2.8" fill="#231f20"/>
<circle cx="453.8" cy="555" r="2.8" fill="#231f20"/>
<circle cx="467" cy="522.74" r="2.8" fill="#231f20"/>
<circle cx="467" cy="535.32" r="2.8" fill="#231f20"/>
<circle cx="467" cy="551.74" r="2.8" fill="#231f20"/>
<circle cx="484.9" cy="513.26" r="2.8" fill="#231f20"/>
<circle cx="484.9" cy="533.1" r="2.8" fill="#231f20"/>
<circle cx="484.9" cy="548.34" r="2.8" fill="#231f20"/>
<circle cx="498.2" cy="528.66" r="2.8" fill="#231f20"/>
<circle cx="498.2" cy="533.54" r="2.8" fill="#231f20"/>
<circle cx="498.2" cy="549.82" r="2.8" fill="#231f20"/>
<line x1="330.9" y1="492.1" x2="330.9" y2="614.8" stroke="#231f20" stroke-width="1.4"/>
<line x1="330.2" y1="614.2" x2="509" y2="614.2" stroke="#231f20" stroke-width="1.4"/>
<line x1="327.1" y1="614.2" x2="330.9" y2="614.2" stroke="#231f20" stroke-width="1.2"/>
<text x="322.3" y="617.3" font-size="8.7" text-anchor="end" stroke="#231f20" stroke-width="0.18">0</text>
<line x1="327.1" y1="584.6" x2="330.9" y2="584.6" stroke="#231f20" stroke-width="1.2"/>
<text x="322.3" y="587.7" font-size="8.7" text-anchor="end" stroke="#231f20" stroke-width="0.18">200</text>
<line x1="327.1" y1="555" x2="330.9" y2="555" stroke="#231f20" stroke-width="1.2"/>
<text x="322.3" y="558.1" font-size="8.7" text-anchor="end" stroke="#231f20" stroke-width="0.18">400</text>
<line x1="327.1" y1="525.4" x2="330.9" y2="525.4" stroke="#231f20" stroke-width="1.2"/>
<text x="322.3" y="528.5" font-size="8.7" text-anchor="end" stroke="#231f20" stroke-width="0.18">600</text>
<line x1="327.1" y1="495.8" x2="330.9" y2="495.8" stroke="#231f20" stroke-width="1.2"/>
<text x="322.3" y="498.9" font-size="8.7" text-anchor="end" stroke="#231f20" stroke-width="0.18">800</text>
<line x1="342.6" y1="614.2" x2="342.6" y2="617.4" stroke="#231f20" stroke-width="1"/>
<line x1="360.6" y1="614.2" x2="360.6" y2="617.4" stroke="#231f20" stroke-width="1"/>
<line x1="373.7" y1="614.2" x2="373.7" y2="617.4" stroke="#231f20" stroke-width="1"/>
<line x1="392" y1="614.2" x2="392" y2="617.4" stroke="#231f20" stroke-width="1"/>
<line x1="405" y1="614.2" x2="405" y2="617.4" stroke="#231f20" stroke-width="1"/>
<line x1="422.9" y1="614.2" x2="422.9" y2="617.4" stroke="#231f20" stroke-width="1"/>
<line x1="436" y1="614.2" x2="436" y2="617.4" stroke="#231f20" stroke-width="1"/>
<line x1="453.8" y1="614.2" x2="453.8" y2="617.4" stroke="#231f20" stroke-width="1"/>
<line x1="467" y1="614.2" x2="467" y2="617.4" stroke="#231f20" stroke-width="1"/>
<line x1="484.9" y1="614.2" x2="484.9" y2="617.4" stroke="#231f20" stroke-width="1"/>
<line x1="498.2" y1="614.2" x2="498.2" y2="617.4" stroke="#231f20" stroke-width="1"/>
<text x="342.3" y="626.8" font-size="8.6" text-anchor="end" transform="rotate(-45 342.3 626.8)" stroke="#231f20" stroke-width="0.18">Buffer</text>
<text x="360.4" y="626.6" font-size="8.6" text-anchor="end" transform="rotate(-45 360.4 626.6)" stroke="#231f20" stroke-width="0.18">SOT</text>
<text x="372.8" y="628" font-size="8.6" text-anchor="end" transform="rotate(-45 372.8 628)" stroke="#231f20" stroke-width="0.18">A11</text>
<text x="391.8" y="626.6" font-size="8.6" text-anchor="end" transform="rotate(-45 391.8 626.6)" stroke="#231f20" stroke-width="0.18">SOT</text>
<text x="404.1" y="628" font-size="8.6" text-anchor="end" transform="rotate(-45 404.1 628)" stroke="#231f20" stroke-width="0.18">A11</text>
<text x="422.7" y="626.6" font-size="8.6" text-anchor="end" transform="rotate(-45 422.7 626.6)" stroke="#231f20" stroke-width="0.18">SOT</text>
<text x="435.1" y="628" font-size="8.6" text-anchor="end" transform="rotate(-45 435.1 628)" stroke="#231f20" stroke-width="0.18">A11</text>
<text x="453.6" y="626.6" font-size="8.6" text-anchor="end" transform="rotate(-45 453.6 626.6)" stroke="#231f20" stroke-width="0.18">SOT</text>
<text x="466.1" y="628" font-size="8.6" text-anchor="end" transform="rotate(-45 466.1 628)" stroke="#231f20" stroke-width="0.18">A11</text>
<text x="484.7" y="626.6" font-size="8.6" text-anchor="end" transform="rotate(-45 484.7 626.6)" stroke="#231f20" stroke-width="0.18">SOT</text>
<text x="497.3" y="628" font-size="8.6" text-anchor="end" transform="rotate(-45 497.3 628)" stroke="#231f20" stroke-width="0.18">A11</text>
<line x1="350" y1="645.4" x2="373.8" y2="645.4" stroke="#231f20" stroke-width="1.3"/>
<text x="362.3" y="657.3" font-size="8.5" text-anchor="middle" stroke="#231f20" stroke-width="0.18">1:1</text>
<line x1="380.8" y1="645.4" x2="405.4" y2="645.4" stroke="#231f20" stroke-width="1.3"/>
<text x="393" y="657.3" font-size="8.5" text-anchor="middle" stroke="#231f20" stroke-width="0.18">5:1</text>
<line x1="412.3" y1="645.4" x2="436.2" y2="645.4" stroke="#231f20" stroke-width="1.3"/>
<text x="424.6" y="657.3" font-size="8.5" text-anchor="middle" stroke="#231f20" stroke-width="0.18">10:1</text>
<line x1="443" y1="645.4" x2="467.3" y2="645.4" stroke="#231f20" stroke-width="1.3"/>
<text x="455.4" y="657.3" font-size="8.5" text-anchor="middle" stroke="#231f20" stroke-width="0.18">20:1</text>
<line x1="473.8" y1="645.4" x2="497.7" y2="645.4" stroke="#231f20" stroke-width="1.3"/>
<text x="486.2" y="657.3" font-size="8.5" text-anchor="middle" stroke="#231f20" stroke-width="0.18">40:1</text>
<text x="299.9" y="555.2" font-size="10.5" text-anchor="middle" textLength="43.9" lengthAdjust="spacingAndGlyphs" transform="rotate(-90 299.9 555.2)" stroke="#231f20" stroke-width="0.3">Lag time (s)</text>
<text x="9" y="694.5" font-size="16" font-weight="bold" fill="#000" stroke="#000" stroke-width="0.35">G</text>
<rect x="76.25" y="737.81" width="11.3" height="92.59" fill="#0f4c8a"/>
<rect x="93.65" y="741.12" width="11.3" height="89.28" fill="#dccdc0"/>
<rect x="106.35" y="743.01" width="11.3" height="87.39" fill="#f7c4dd"/>
<rect x="123.95" y="742.06" width="11.3" height="88.34" fill="#bfa08a"/>
<rect x="137.35" y="743.01" width="11.3" height="87.39" fill="#e987ba"/>
<rect x="155.15" y="741.12" width="11.3" height="89.28" fill="#a87f5e"/>
<rect x="168.15" y="741.59" width="11.3" height="88.81" fill="#efbdad"/>
<rect x="185.65" y="737.81" width="11.3" height="92.59" fill="#8a5630"/>
<rect x="198.65" y="739.23" width="11.3" height="91.17" fill="#e0786b"/>
<rect x="215.95" y="739.23" width="11.3" height="91.17" fill="#6a3a12"/>
<rect x="229.35" y="737.81" width="11.3" height="92.59" fill="#c8102e"/>
<line x1="81.9" y1="726" x2="81.9" y2="749.15" stroke="#231f20" stroke-width="1.35"/>
<line x1="78.9" y1="726" x2="84.9" y2="726" stroke="#231f20" stroke-width="1.5"/>
<line x1="78.9" y1="749.15" x2="84.9" y2="749.15" stroke="#231f20" stroke-width="1.5"/>
<line x1="99.3" y1="732.69" x2="99.3" y2="747.97" stroke="#231f20" stroke-width="1.35"/>
<line x1="96.3" y1="732.69" x2="102.3" y2="732.69" stroke="#231f20" stroke-width="1.5"/>
<line x1="96.3" y1="747.97" x2="102.3" y2="747.97" stroke="#231f20" stroke-width="1.5"/>
<line x1="112" y1="729.45" x2="112" y2="754.99" stroke="#231f20" stroke-width="1.35"/>
<line x1="109" y1="729.45" x2="115" y2="729.45" stroke="#231f20" stroke-width="1.5"/>
<line x1="109" y1="754.99" x2="115" y2="754.99" stroke="#231f20" stroke-width="1.5"/>
<line x1="129.6" y1="735.2" x2="129.6" y2="748.61" stroke="#231f20" stroke-width="1.35"/>
<line x1="126.6" y1="735.2" x2="132.6" y2="735.2" stroke="#231f20" stroke-width="1.5"/>
<line x1="126.6" y1="748.61" x2="132.6" y2="748.61" stroke="#231f20" stroke-width="1.5"/>
<line x1="143" y1="727.66" x2="143" y2="756.78" stroke="#231f20" stroke-width="1.35"/>
<line x1="140" y1="727.66" x2="146" y2="727.66" stroke="#231f20" stroke-width="1.5"/>
<line x1="140" y1="756.78" x2="146" y2="756.78" stroke="#231f20" stroke-width="1.5"/>
<line x1="160.8" y1="727.81" x2="160.8" y2="753.17" stroke="#231f20" stroke-width="1.35"/>
<line x1="157.8" y1="727.81" x2="163.8" y2="727.81" stroke="#231f20" stroke-width="1.5"/>
<line x1="157.8" y1="753.17" x2="163.8" y2="753.17" stroke="#231f20" stroke-width="1.5"/>
<line x1="173.8" y1="735.58" x2="173.8" y2="746.97" stroke="#231f20" stroke-width="1.35"/>
<line x1="170.8" y1="735.58" x2="176.8" y2="735.58" stroke="#231f20" stroke-width="1.5"/>
<line x1="170.8" y1="746.97" x2="176.8" y2="746.97" stroke="#231f20" stroke-width="1.5"/>
<line x1="191.3" y1="725.92" x2="191.3" y2="749.07" stroke="#231f20" stroke-width="1.35"/>
<line x1="188.3" y1="725.92" x2="194.3" y2="725.92" stroke="#231f20" stroke-width="1.5"/>
<line x1="188.3" y1="749.07" x2="194.3" y2="749.07" stroke="#231f20" stroke-width="1.5"/>
<line x1="204.3" y1="728.93" x2="204.3" y2="747.01" stroke="#231f20" stroke-width="1.35"/>
<line x1="201.3" y1="728.93" x2="207.3" y2="728.93" stroke="#231f20" stroke-width="1.5"/>
<line x1="201.3" y1="747.01" x2="207.3" y2="747.01" stroke="#231f20" stroke-width="1.5"/>
<line x1="221.6" y1="726" x2="221.6" y2="748.67" stroke="#231f20" stroke-width="1.35"/>
<line x1="218.6" y1="726" x2="224.6" y2="726" stroke="#231f20" stroke-width="1.5"/>
<line x1="218.6" y1="748.67" x2="224.6" y2="748.67" stroke="#231f20" stroke-width="1.5"/>
<line x1="235" y1="727.24" x2="235" y2="747.44" stroke="#231f20" stroke-width="1.35"/>
<line x1="232" y1="727.24" x2="238" y2="727.24" stroke="#231f20" stroke-width="1.5"/>
<line x1="232" y1="747.44" x2="238" y2="747.44" stroke="#231f20" stroke-width="1.5"/>
<circle cx="81.9" cy="726" r="2.8" fill="#231f20"/>
<circle cx="81.9" cy="735.45" r="2.8" fill="#231f20"/>
<circle cx="95.5" cy="735.92" r="2.8" fill="#231f20"/>
<circle cx="103.1" cy="735.92" r="2.8" fill="#231f20"/>
<circle cx="99.3" cy="749.15" r="2.8" fill="#231f20"/>
<circle cx="112" cy="732.61" r="2.8" fill="#231f20"/>
<circle cx="112" cy="737.34" r="2.8" fill="#231f20"/>
<circle cx="112" cy="756.71" r="2.8" fill="#231f20"/>
<circle cx="129.6" cy="735.92" r="2.8" fill="#231f20"/>
<circle cx="129.6" cy="740.64" r="2.8" fill="#231f20"/>
<circle cx="129.6" cy="749.15" r="2.8" fill="#231f20"/>
<circle cx="143" cy="730.72" r="2.8" fill="#231f20"/>
<circle cx="143" cy="737.34" r="2.8" fill="#231f20"/>
<circle cx="143" cy="758.6" r="2.8" fill="#231f20"/>
<circle cx="157.3" cy="730.72" r="2.8" fill="#231f20"/>
<circle cx="164.3" cy="735.92" r="2.8" fill="#231f20"/>
<circle cx="160.8" cy="754.82" r="2.8" fill="#231f20"/>
<circle cx="173.8" cy="735.92" r="2.8" fill="#231f20"/>
<circle cx="173.8" cy="740.64" r="2.8" fill="#231f20"/>
<circle cx="173.8" cy="747.26" r="2.8" fill="#231f20"/>
<circle cx="191.3" cy="726" r="2.8" fill="#231f20"/>
<circle cx="191.3" cy="737.34" r="2.8" fill="#231f20"/>
<circle cx="191.3" cy="749.15" r="2.8" fill="#231f20"/>
<circle cx="204.3" cy="727.89" r="2.8" fill="#231f20"/>
<circle cx="204.3" cy="740.64" r="2.8" fill="#231f20"/>
<circle cx="204.3" cy="745.37" r="2.8" fill="#231f20"/>
<circle cx="221.6" cy="726" r="2.8" fill="#231f20"/>
<circle cx="221.6" cy="737.34" r="2.8" fill="#231f20"/>
<circle cx="221.6" cy="748.67" r="2.8" fill="#231f20"/>
<circle cx="235" cy="726" r="2.8" fill="#231f20"/>
<circle cx="235" cy="740.64" r="2.8" fill="#231f20"/>
<circle cx="235" cy="745.37" r="2.8" fill="#231f20"/>
<line x1="69.2" y1="708.8" x2="69.2" y2="831" stroke="#231f20" stroke-width="1.4"/>
<line x1="68.5" y1="830.4" x2="248.2" y2="830.4" stroke="#231f20" stroke-width="1.4"/>
<line x1="65.4" y1="830.4" x2="69.2" y2="830.4" stroke="#231f20" stroke-width="1.2"/>
<text x="61.2" y="833.5" font-size="8.7" text-anchor="end" stroke="#231f20" stroke-width="0.18">0.00</text>
<line x1="65.4" y1="806.78" x2="69.2" y2="806.78" stroke="#231f20" stroke-width="1.2"/>
<text x="61.2" y="809.88" font-size="8.7" text-anchor="end" stroke="#231f20" stroke-width="0.18">0.05</text>
<line x1="65.4" y1="783.16" x2="69.2" y2="783.16" stroke="#231f20" stroke-width="1.2"/>
<text x="61.2" y="786.26" font-size="8.7" text-anchor="end" stroke="#231f20" stroke-width="0.18">0.10</text>
<line x1="65.4" y1="759.54" x2="69.2" y2="759.54" stroke="#231f20" stroke-width="1.2"/>
<text x="61.2" y="762.64" font-size="8.7" text-anchor="end" stroke="#231f20" stroke-width="0.18">0.15</text>
<line x1="65.4" y1="735.92" x2="69.2" y2="735.92" stroke="#231f20" stroke-width="1.2"/>
<text x="61.2" y="739.02" font-size="8.7" text-anchor="end" stroke="#231f20" stroke-width="0.18">0.20</text>
<line x1="65.4" y1="712.3" x2="69.2" y2="712.3" stroke="#231f20" stroke-width="1.2"/>
<text x="61.2" y="715.4" font-size="8.7" text-anchor="end" stroke="#231f20" stroke-width="0.18">0.25</text>
<line x1="81.9" y1="830.4" x2="81.9" y2="833.6" stroke="#231f20" stroke-width="1"/>
<line x1="99.3" y1="830.4" x2="99.3" y2="833.6" stroke="#231f20" stroke-width="1"/>
<line x1="112" y1="830.4" x2="112" y2="833.6" stroke="#231f20" stroke-width="1"/>
<line x1="129.6" y1="830.4" x2="129.6" y2="833.6" stroke="#231f20" stroke-width="1"/>
<line x1="143" y1="830.4" x2="143" y2="833.6" stroke="#231f20" stroke-width="1"/>
<line x1="160.8" y1="830.4" x2="160.8" y2="833.6" stroke="#231f20" stroke-width="1"/>
<line x1="173.8" y1="830.4" x2="173.8" y2="833.6" stroke="#231f20" stroke-width="1"/>
<line x1="191.3" y1="830.4" x2="191.3" y2="833.6" stroke="#231f20" stroke-width="1"/>
<line x1="204.3" y1="830.4" x2="204.3" y2="833.6" stroke="#231f20" stroke-width="1"/>
<line x1="221.6" y1="830.4" x2="221.6" y2="833.6" stroke="#231f20" stroke-width="1"/>
<line x1="235" y1="830.4" x2="235" y2="833.6" stroke="#231f20" stroke-width="1"/>
<text x="81.6" y="843.6" font-size="8.6" text-anchor="end" transform="rotate(-45 81.6 843.6)" stroke="#231f20" stroke-width="0.18">Buffer</text>
<text x="99.1" y="843.4" font-size="8.6" text-anchor="end" transform="rotate(-45 99.1 843.4)" stroke="#231f20" stroke-width="0.18">SOT</text>
<text x="111.1" y="844.8" font-size="8.6" text-anchor="end" transform="rotate(-45 111.1 844.8)" stroke="#231f20" stroke-width="0.18">A11</text>
<text x="129.4" y="843.4" font-size="8.6" text-anchor="end" transform="rotate(-45 129.4 843.4)" stroke="#231f20" stroke-width="0.18">SOT</text>
<text x="142.1" y="844.8" font-size="8.6" text-anchor="end" transform="rotate(-45 142.1 844.8)" stroke="#231f20" stroke-width="0.18">A11</text>
<text x="160.6" y="843.4" font-size="8.6" text-anchor="end" transform="rotate(-45 160.6 843.4)" stroke="#231f20" stroke-width="0.18">SOT</text>
<text x="172.9" y="844.8" font-size="8.6" text-anchor="end" transform="rotate(-45 172.9 844.8)" stroke="#231f20" stroke-width="0.18">A11</text>
<text x="191.1" y="843.4" font-size="8.6" text-anchor="end" transform="rotate(-45 191.1 843.4)" stroke="#231f20" stroke-width="0.18">SOT</text>
<text x="203.4" y="844.8" font-size="8.6" text-anchor="end" transform="rotate(-45 203.4 844.8)" stroke="#231f20" stroke-width="0.18">A11</text>
<text x="221.4" y="843.4" font-size="8.6" text-anchor="end" transform="rotate(-45 221.4 843.4)" stroke="#231f20" stroke-width="0.18">SOT</text>
<text x="234.1" y="844.8" font-size="8.6" text-anchor="end" transform="rotate(-45 234.1 844.8)" stroke="#231f20" stroke-width="0.18">A11</text>
<line x1="91.5" y1="861.5" x2="116.5" y2="861.5" stroke="#231f20" stroke-width="1.3"/>
<text x="104.2" y="873.3" font-size="8.5" text-anchor="middle" stroke="#231f20" stroke-width="0.18">1:1</text>
<line x1="123.5" y1="861.5" x2="147.7" y2="861.5" stroke="#231f20" stroke-width="1.3"/>
<text x="135" y="873.3" font-size="8.5" text-anchor="middle" stroke="#231f20" stroke-width="0.18">5:1</text>
<line x1="154.2" y1="861.5" x2="178.5" y2="861.5" stroke="#231f20" stroke-width="1.3"/>
<text x="164.6" y="873.3" font-size="8.5" text-anchor="middle" stroke="#231f20" stroke-width="0.18">10:1</text>
<line x1="185" y1="861.5" x2="209.2" y2="861.5" stroke="#231f20" stroke-width="1.3"/>
<text x="195.4" y="873.3" font-size="8.5" text-anchor="middle" stroke="#231f20" stroke-width="0.18">20:1</text>
<line x1="215" y1="861.5" x2="239.6" y2="861.5" stroke="#231f20" stroke-width="1.3"/>
<text x="226.2" y="873.3" font-size="8.5" text-anchor="middle" stroke="#231f20" stroke-width="0.18">40:1</text>
<text x="35.7" y="771.9" font-size="9.5" text-anchor="middle" textLength="78" lengthAdjust="spacingAndGlyphs" transform="rotate(-90 35.7 771.9)" stroke="#231f20" stroke-width="0.3">Max absorbance (OD)</text>
<text x="278" y="694.3" font-size="16" font-weight="bold" fill="#000" stroke="#000" stroke-width="0.35">H</text>
<rect x="336.9" y="753.38" width="11.2" height="77.42" fill="#0f4c8a"/>
<rect x="354.2" y="759.44" width="11.2" height="71.36" fill="#dccdc0"/>
<rect x="366.8" y="761.21" width="11.2" height="69.59" fill="#f7c4dd"/>
<rect x="384.2" y="747.16" width="11.2" height="83.64" fill="#bfa08a"/>
<rect x="396.8" y="771.72" width="11.2" height="59.08" fill="#e987ba"/>
<rect x="413.9" y="752.54" width="11.2" height="78.26" fill="#a87f5e"/>
<rect x="426.2" y="776.32" width="11.2" height="54.48" fill="#efbdad"/>
<rect x="443.3" y="749.47" width="11.2" height="81.33" fill="#8a5630"/>
<rect x="455.9" y="777.86" width="11.2" height="52.94" fill="#e0786b"/>
<rect x="473.3" y="753.3" width="11.2" height="77.5" fill="#6a3a12"/>
<rect x="485.9" y="795.2" width="11.2" height="35.6" fill="#c8102e"/>
<line x1="359.8" y1="752.98" x2="359.8" y2="765.39" stroke="#231f20" stroke-width="1.35"/>
<line x1="356.8" y1="752.98" x2="362.8" y2="752.98" stroke="#231f20" stroke-width="1.5"/>
<line x1="356.8" y1="765.39" x2="362.8" y2="765.39" stroke="#231f20" stroke-width="1.5"/>
<line x1="372.4" y1="753.65" x2="372.4" y2="766.76" stroke="#231f20" stroke-width="1.35"/>
<line x1="369.4" y1="753.65" x2="375.4" y2="753.65" stroke="#231f20" stroke-width="1.5"/>
<line x1="369.4" y1="766.76" x2="375.4" y2="766.76" stroke="#231f20" stroke-width="1.5"/>
<line x1="389.8" y1="735.2" x2="389.8" y2="759.13" stroke="#231f20" stroke-width="1.35"/>
<line x1="386.8" y1="735.2" x2="392.8" y2="735.2" stroke="#231f20" stroke-width="1.5"/>
<line x1="386.8" y1="759.13" x2="392.8" y2="759.13" stroke="#231f20" stroke-width="1.5"/>
<line x1="402.4" y1="755.74" x2="402.4" y2="785.86" stroke="#231f20" stroke-width="1.35"/>
<line x1="399.4" y1="755.74" x2="405.4" y2="755.74" stroke="#231f20" stroke-width="1.5"/>
<line x1="399.4" y1="785.86" x2="405.4" y2="785.86" stroke="#231f20" stroke-width="1.5"/>
<line x1="419.5" y1="744.95" x2="419.5" y2="758.59" stroke="#231f20" stroke-width="1.35"/>
<line x1="416.5" y1="744.95" x2="422.5" y2="744.95" stroke="#231f20" stroke-width="1.5"/>
<line x1="416.5" y1="758.59" x2="422.5" y2="758.59" stroke="#231f20" stroke-width="1.5"/>
<line x1="431.8" y1="756.86" x2="431.8" y2="790.88" stroke="#231f20" stroke-width="1.35"/>
<line x1="428.8" y1="756.86" x2="434.8" y2="756.86" stroke="#231f20" stroke-width="1.5"/>
<line x1="428.8" y1="790.88" x2="434.8" y2="790.88" stroke="#231f20" stroke-width="1.5"/>
<line x1="448.9" y1="742.48" x2="448.9" y2="751.34" stroke="#231f20" stroke-width="1.35"/>
<line x1="445.9" y1="742.48" x2="451.9" y2="742.48" stroke="#231f20" stroke-width="1.5"/>
<line x1="445.9" y1="751.34" x2="451.9" y2="751.34" stroke="#231f20" stroke-width="1.5"/>
<line x1="461.5" y1="761.87" x2="461.5" y2="791.24" stroke="#231f20" stroke-width="1.35"/>
<line x1="458.5" y1="761.87" x2="464.5" y2="761.87" stroke="#231f20" stroke-width="1.5"/>
<line x1="458.5" y1="791.24" x2="464.5" y2="791.24" stroke="#231f20" stroke-width="1.5"/>
<line x1="491.5" y1="786.47" x2="491.5" y2="803.72" stroke="#231f20" stroke-width="1.35"/>
<line x1="488.5" y1="786.47" x2="494.5" y2="786.47" stroke="#231f20" stroke-width="1.5"/>
<line x1="488.5" y1="803.72" x2="494.5" y2="803.72" stroke="#231f20" stroke-width="1.5"/>
<circle cx="338" cy="754.07" r="2.8" fill="#231f20"/>
<circle cx="342.5" cy="754.07" r="2.8" fill="#231f20"/>
<circle cx="347" cy="754.07" r="2.8" fill="#231f20"/>
<circle cx="355" cy="755.6" r="2.8" fill="#231f20"/>
<circle cx="364" cy="755.6" r="2.8" fill="#231f20"/>
<circle cx="359.8" cy="766.35" r="2.8" fill="#231f20"/>
<circle cx="372.4" cy="754.07" r="2.8" fill="#231f20"/>
<circle cx="372.4" cy="759.44" r="2.8" fill="#231f20"/>
<circle cx="372.4" cy="767.11" r="2.8" fill="#231f20"/>
<circle cx="389.8" cy="733.35" r="2.8" fill="#231f20"/>
<circle cx="385.5" cy="754.07" r="2.8" fill="#231f20"/>
<circle cx="394" cy="754.07" r="2.8" fill="#231f20"/>
<circle cx="402.4" cy="754.84" r="2.8" fill="#231f20"/>
<circle cx="402.4" cy="772.79" r="2.8" fill="#231f20"/>
<circle cx="402.4" cy="784.76" r="2.8" fill="#231f20"/>
<circle cx="415.5" cy="746.4" r="2.8" fill="#231f20"/>
<circle cx="422.5" cy="749.47" r="2.8" fill="#231f20"/>
<circle cx="419.5" cy="759.44" r="2.8" fill="#231f20"/>
<circle cx="427" cy="764.04" r="2.8" fill="#231f20"/>
<circle cx="436" cy="764.04" r="2.8" fill="#231f20"/>
<circle cx="431.8" cy="793.51" r="2.8" fill="#231f20"/>
<circle cx="448.9" cy="741.79" r="2.8" fill="#231f20"/>
<circle cx="444" cy="749.47" r="2.8" fill="#231f20"/>
<circle cx="453.5" cy="749.47" r="2.8" fill="#231f20"/>
<circle cx="458" cy="768.27" r="2.8" fill="#231f20"/>
<circle cx="466" cy="767.88" r="2.8" fill="#231f20"/>
<circle cx="461.5" cy="793.51" r="2.8" fill="#231f20"/>
<circle cx="474.4" cy="754.07" r="2.8" fill="#231f20"/>
<circle cx="478.9" cy="753.3" r="2.8" fill="#231f20"/>
<circle cx="483.4" cy="754.07" r="2.8" fill="#231f20"/>
<circle cx="486" cy="789.37" r="2.8" fill="#231f20"/>
<circle cx="496" cy="790.9" r="2.8" fill="#231f20"/>
<circle cx="491.5" cy="805.02" r="2.8" fill="#231f20"/>
<line x1="330.9" y1="712.5" x2="330.9" y2="831.4" stroke="#231f20" stroke-width="1.4"/>
<line x1="330.2" y1="830.8" x2="509" y2="830.8" stroke="#231f20" stroke-width="1.4"/>
<line x1="327.1" y1="830.8" x2="330.9" y2="830.8" stroke="#231f20" stroke-width="1.2"/>
<text x="322.3" y="833.9" font-size="8.7" text-anchor="end" stroke="#231f20" stroke-width="0.18">0</text>
<line x1="327.1" y1="792.43" x2="330.9" y2="792.43" stroke="#231f20" stroke-width="1.2"/>
<text x="322.3" y="795.53" font-size="8.7" text-anchor="end" stroke="#231f20" stroke-width="0.18">50</text>
<line x1="327.1" y1="754.07" x2="330.9" y2="754.07" stroke="#231f20" stroke-width="1.2"/>
<text x="322.3" y="757.17" font-size="8.7" text-anchor="end" stroke="#231f20" stroke-width="0.18">100</text>
<line x1="327.1" y1="715.7" x2="330.9" y2="715.7" stroke="#231f20" stroke-width="1.2"/>
<text x="322.3" y="718.8" font-size="8.7" text-anchor="end" stroke="#231f20" stroke-width="0.18">150</text>
<line x1="342.5" y1="830.8" x2="342.5" y2="834" stroke="#231f20" stroke-width="1"/>
<line x1="359.8" y1="830.8" x2="359.8" y2="834" stroke="#231f20" stroke-width="1"/>
<line x1="372.4" y1="830.8" x2="372.4" y2="834" stroke="#231f20" stroke-width="1"/>
<line x1="389.8" y1="830.8" x2="389.8" y2="834" stroke="#231f20" stroke-width="1"/>
<line x1="402.4" y1="830.8" x2="402.4" y2="834" stroke="#231f20" stroke-width="1"/>
<line x1="419.5" y1="830.8" x2="419.5" y2="834" stroke="#231f20" stroke-width="1"/>
<line x1="431.8" y1="830.8" x2="431.8" y2="834" stroke="#231f20" stroke-width="1"/>
<line x1="448.9" y1="830.8" x2="448.9" y2="834" stroke="#231f20" stroke-width="1"/>
<line x1="461.5" y1="830.8" x2="461.5" y2="834" stroke="#231f20" stroke-width="1"/>
<line x1="478.9" y1="830.8" x2="478.9" y2="834" stroke="#231f20" stroke-width="1"/>
<line x1="491.5" y1="830.8" x2="491.5" y2="834" stroke="#231f20" stroke-width="1"/>
<text x="342.2" y="843.8" font-size="8.6" text-anchor="end" transform="rotate(-45 342.2 843.8)" stroke="#231f20" stroke-width="0.18">Buffer</text>
<text x="359.6" y="843.6" font-size="8.6" text-anchor="end" transform="rotate(-45 359.6 843.6)" stroke="#231f20" stroke-width="0.18">SOT</text>
<text x="371.5" y="845" font-size="8.6" text-anchor="end" transform="rotate(-45 371.5 845)" stroke="#231f20" stroke-width="0.18">A11</text>
<text x="389.6" y="843.6" font-size="8.6" text-anchor="end" transform="rotate(-45 389.6 843.6)" stroke="#231f20" stroke-width="0.18">SOT</text>
<text x="401.5" y="845" font-size="8.6" text-anchor="end" transform="rotate(-45 401.5 845)" stroke="#231f20" stroke-width="0.18">A11</text>
<text x="419.3" y="843.6" font-size="8.6" text-anchor="end" transform="rotate(-45 419.3 843.6)" stroke="#231f20" stroke-width="0.18">SOT</text>
<text x="430.9" y="845" font-size="8.6" text-anchor="end" transform="rotate(-45 430.9 845)" stroke="#231f20" stroke-width="0.18">A11</text>
<text x="448.7" y="843.6" font-size="8.6" text-anchor="end" transform="rotate(-45 448.7 843.6)" stroke="#231f20" stroke-width="0.18">SOT</text>
<text x="460.6" y="845" font-size="8.6" text-anchor="end" transform="rotate(-45 460.6 845)" stroke="#231f20" stroke-width="0.18">A11</text>
<text x="478.7" y="843.6" font-size="8.6" text-anchor="end" transform="rotate(-45 478.7 843.6)" stroke="#231f20" stroke-width="0.18">SOT</text>
<text x="490.6" y="845" font-size="8.6" text-anchor="end" transform="rotate(-45 490.6 845)" stroke="#231f20" stroke-width="0.18">A11</text>
<line x1="353.8" y1="861.5" x2="377.7" y2="861.5" stroke="#231f20" stroke-width="1.3"/>
<text x="366" y="873" font-size="8.5" text-anchor="middle" stroke="#231f20" stroke-width="0.18">1:1</text>
<line x1="384.6" y1="861.5" x2="407.7" y2="861.5" stroke="#231f20" stroke-width="1.3"/>
<text x="395" y="873" font-size="8.5" text-anchor="middle" stroke="#231f20" stroke-width="0.18">5:1</text>
<line x1="414.2" y1="861.5" x2="437.3" y2="861.5" stroke="#231f20" stroke-width="1.3"/>
<text x="424.6" y="873" font-size="8.5" text-anchor="middle" stroke="#231f20" stroke-width="0.18">10:1</text>
<line x1="443.8" y1="861.5" x2="468" y2="861.5" stroke="#231f20" stroke-width="1.3"/>
<text x="455.4" y="873" font-size="8.5" text-anchor="middle" stroke="#231f20" stroke-width="0.18">20:1</text>
<line x1="473.8" y1="861.5" x2="496.9" y2="861.5" stroke="#231f20" stroke-width="1.3"/>
<text x="485.4" y="873" font-size="8.5" text-anchor="middle" stroke="#231f20" stroke-width="0.18">40:1</text>
<text x="298.9" y="773.5" font-size="9.7" text-anchor="middle" textLength="99.7" lengthAdjust="spacingAndGlyphs" transform="rotate(-90 298.9 773.5)" stroke="#231f20" stroke-width="0.3">Lysis time (buffer-adjusted)</text>
<path d="M342.3,733.3 V710.8 H492 V771.3" fill="none" stroke="#231f20" stroke-width="1.1"/>
<text x="417.1" y="706.3" font-size="8.6" text-anchor="middle" stroke="#231f20" stroke-width="0.18"><tspan font-style="italic">P</tspan> &lt; .05</text>
<rect x="0.5" y="0.5" width="519" height="884" fill="none" stroke="#333" stroke-width="1"/>
</svg>
</body></html>
